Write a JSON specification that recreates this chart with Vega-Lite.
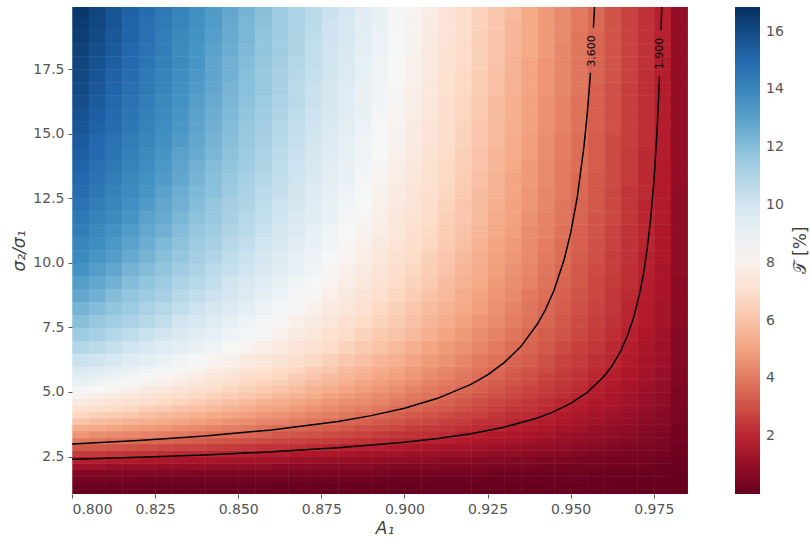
{
"$schema":"https://vega.github.io/schema/vega-lite/v6.json",
"width":625,"height":487,"autosize":"none",
"padding":{"left":72,"top":7,"right":113,"bottom":46},
"background":"white",
"title":{"text":"𝒯 [%]","orient":"right","angle":270,"anchor":"middle","frame":"group","offset":-8,"fontSize":17,"fontWeight":"normal","color":"#444444","font":"DejaVu Sans"},
"config":{"font":"DejaVu Sans","view":{"stroke":null},
"axis":{"domain":false,"labelColor":"#555555","labelFontSize":14,"tickColor":"#555555","tickSize":4,"labelPadding":4,"titleColor":"#444444","titleFontSize":17,"titleFontWeight":"normal","titleFontStyle":"italic","grid":false}},
"datasets":{
"lo":[
{"a":0.802,"s":1.1,"t":0},{"a":0.807,"s":1.1,"t":0},{"a":0.812,"s":1.1,"t":0},{"a":0.817,"s":1.1,"t":0},{"a":0.822,"s":1.1,"t":0},{"a":0.827,"s":1.1,"t":0},{"a":0.832,"s":1.1,"t":0},{"a":0.837,"s":1.1,"t":0},{"a":0.842,"s":1.1,"t":0},{"a":0.847,"s":1.1,"t":0},{"a":0.852,"s":1.1,"t":0},{"a":0.857,"s":1.1,"t":0},{"a":0.862,"s":1.1,"t":0},{"a":0.867,"s":1.1,"t":0},{"a":0.872,"s":1.1,"t":0},{"a":0.877,"s":1.1,"t":0},{"a":0.882,"s":1.1,"t":0},{"a":0.887,"s":1.1,"t":0},{"a":0.892,"s":1.1,"t":0},{"a":0.897,"s":1.1,"t":0},{"a":0.902,"s":1.1,"t":0},{"a":0.907,"s":1.1,"t":0},{"a":0.912,"s":1.1,"t":0},{"a":0.917,"s":1.1,"t":0},{"a":0.922,"s":1.1,"t":0},{"a":0.927,"s":1.1,"t":0},{"a":0.932,"s":1.1,"t":0},{"a":0.937,"s":1.1,"t":0},{"a":0.942,"s":1.1,"t":0},{"a":0.947,"s":1.1,"t":0},{"a":0.952,"s":1.1,"t":0},{"a":0.957,"s":1.1,"t":0},{"a":0.962,"s":1.1,"t":0},{"a":0.967,"s":1.1,"t":0},{"a":0.972,"s":1.1,"t":0},{"a":0.977,"s":1.1,"t":0},{"a":0.982,"s":1.1,"t":0},{"a":0.987,"s":1.1,"t":0},
{"a":0.802,"s":1.4,"t":0.1},{"a":0.807,"s":1.4,"t":0.1},{"a":0.812,"s":1.4,"t":0.1},{"a":0.817,"s":1.4,"t":0.1},{"a":0.822,"s":1.4,"t":0.1},{"a":0.827,"s":1.4,"t":0.1},{"a":0.832,"s":1.4,"t":0.1},{"a":0.837,"s":1.4,"t":0.1},{"a":0.842,"s":1.4,"t":0.1},{"a":0.847,"s":1.4,"t":0.1},{"a":0.852,"s":1.4,"t":0.1},{"a":0.857,"s":1.4,"t":0.1},{"a":0.862,"s":1.4,"t":0},{"a":0.867,"s":1.4,"t":0},{"a":0.872,"s":1.4,"t":0},{"a":0.877,"s":1.4,"t":0},{"a":0.882,"s":1.4,"t":0},{"a":0.887,"s":1.4,"t":0},{"a":0.892,"s":1.4,"t":0},{"a":0.897,"s":1.4,"t":0},{"a":0.902,"s":1.4,"t":0},{"a":0.907,"s":1.4,"t":0},{"a":0.912,"s":1.4,"t":0},{"a":0.917,"s":1.4,"t":0},{"a":0.922,"s":1.4,"t":0},{"a":0.927,"s":1.4,"t":0},{"a":0.932,"s":1.4,"t":0},{"a":0.937,"s":1.4,"t":0},{"a":0.942,"s":1.4,"t":0},{"a":0.947,"s":1.4,"t":0},{"a":0.952,"s":1.4,"t":0},{"a":0.957,"s":1.4,"t":0},{"a":0.962,"s":1.4,"t":0},{"a":0.967,"s":1.4,"t":0},{"a":0.972,"s":1.4,"t":0},{"a":0.977,"s":1.4,"t":0},{"a":0.982,"s":1.4,"t":0},{"a":0.987,"s":1.4,"t":0},
{"a":0.802,"s":1.6,"t":0.3},{"a":0.807,"s":1.6,"t":0.3},{"a":0.812,"s":1.6,"t":0.3},{"a":0.817,"s":1.6,"t":0.3},{"a":0.822,"s":1.6,"t":0.2},{"a":0.827,"s":1.6,"t":0.2},{"a":0.832,"s":1.6,"t":0.2},{"a":0.837,"s":1.6,"t":0.2},{"a":0.842,"s":1.6,"t":0.2},{"a":0.847,"s":1.6,"t":0.2},{"a":0.852,"s":1.6,"t":0.2},{"a":0.857,"s":1.6,"t":0.2},{"a":0.862,"s":1.6,"t":0.2},{"a":0.867,"s":1.6,"t":0.2},{"a":0.872,"s":1.6,"t":0.2},{"a":0.877,"s":1.6,"t":0.2},{"a":0.882,"s":1.6,"t":0.2},{"a":0.887,"s":1.6,"t":0.2},{"a":0.892,"s":1.6,"t":0.1},{"a":0.897,"s":1.6,"t":0.1},{"a":0.902,"s":1.6,"t":0.1},{"a":0.907,"s":1.6,"t":0.1},{"a":0.912,"s":1.6,"t":0.1},{"a":0.917,"s":1.6,"t":0.1},{"a":0.922,"s":1.6,"t":0.1},{"a":0.927,"s":1.6,"t":0.1},{"a":0.932,"s":1.6,"t":0.1},{"a":0.937,"s":1.6,"t":0.1},{"a":0.942,"s":1.6,"t":0.1},{"a":0.947,"s":1.6,"t":0.1},{"a":0.952,"s":1.6,"t":0.1},{"a":0.957,"s":1.6,"t":0.1},{"a":0.962,"s":1.6,"t":0.1},{"a":0.967,"s":1.6,"t":0},{"a":0.972,"s":1.6,"t":0},{"a":0.977,"s":1.6,"t":0},{"a":0.982,"s":1.6,"t":0},{"a":0.987,"s":1.6,"t":0},
{"a":0.802,"s":1.9,"t":0.6},{"a":0.807,"s":1.9,"t":0.6},{"a":0.812,"s":1.9,"t":0.6},{"a":0.817,"s":1.9,"t":0.6},{"a":0.822,"s":1.9,"t":0.6},{"a":0.827,"s":1.9,"t":0.6},{"a":0.832,"s":1.9,"t":0.6},{"a":0.837,"s":1.9,"t":0.5},{"a":0.842,"s":1.9,"t":0.5},{"a":0.847,"s":1.9,"t":0.5},{"a":0.852,"s":1.9,"t":0.5},{"a":0.857,"s":1.9,"t":0.5},{"a":0.862,"s":1.9,"t":0.5},{"a":0.867,"s":1.9,"t":0.4},{"a":0.872,"s":1.9,"t":0.4},{"a":0.877,"s":1.9,"t":0.4},{"a":0.882,"s":1.9,"t":0.4},{"a":0.887,"s":1.9,"t":0.4},{"a":0.892,"s":1.9,"t":0.4},{"a":0.897,"s":1.9,"t":0.3},{"a":0.902,"s":1.9,"t":0.3},{"a":0.907,"s":1.9,"t":0.3},{"a":0.912,"s":1.9,"t":0.3},{"a":0.917,"s":1.9,"t":0.3},{"a":0.922,"s":1.9,"t":0.3},{"a":0.927,"s":1.9,"t":0.2},{"a":0.932,"s":1.9,"t":0.2},{"a":0.937,"s":1.9,"t":0.2},{"a":0.942,"s":1.9,"t":0.2},{"a":0.947,"s":1.9,"t":0.2},{"a":0.952,"s":1.9,"t":0.2},{"a":0.957,"s":1.9,"t":0.1},{"a":0.962,"s":1.9,"t":0.1},{"a":0.967,"s":1.9,"t":0.1},{"a":0.972,"s":1.9,"t":0.1},{"a":0.977,"s":1.9,"t":0.1},{"a":0.982,"s":1.9,"t":0.1},{"a":0.987,"s":1.9,"t":0},
{"a":0.802,"s":2.1,"t":1.2},{"a":0.807,"s":2.1,"t":1.2},{"a":0.812,"s":2.1,"t":1.1},{"a":0.817,"s":2.1,"t":1.1},{"a":0.822,"s":2.1,"t":1.1},{"a":0.827,"s":2.1,"t":1},{"a":0.832,"s":2.1,"t":1},{"a":0.837,"s":2.1,"t":1},{"a":0.842,"s":2.1,"t":0.9},{"a":0.847,"s":2.1,"t":0.9},{"a":0.852,"s":2.1,"t":0.9},{"a":0.857,"s":2.1,"t":0.9},{"a":0.862,"s":2.1,"t":0.8},{"a":0.867,"s":2.1,"t":0.8},{"a":0.872,"s":2.1,"t":0.8},{"a":0.877,"s":2.1,"t":0.7},{"a":0.882,"s":2.1,"t":0.7},{"a":0.887,"s":2.1,"t":0.7},{"a":0.892,"s":2.1,"t":0.6},{"a":0.897,"s":2.1,"t":0.6},{"a":0.902,"s":2.1,"t":0.6},{"a":0.907,"s":2.1,"t":0.6},{"a":0.912,"s":2.1,"t":0.5},{"a":0.917,"s":2.1,"t":0.5},{"a":0.922,"s":2.1,"t":0.5},{"a":0.927,"s":2.1,"t":0.4},{"a":0.932,"s":2.1,"t":0.4},{"a":0.937,"s":2.1,"t":0.4},{"a":0.942,"s":2.1,"t":0.3},{"a":0.947,"s":2.1,"t":0.3},{"a":0.952,"s":2.1,"t":0.3},{"a":0.957,"s":2.1,"t":0.3},{"a":0.962,"s":2.1,"t":0.2},{"a":0.967,"s":2.1,"t":0.2},{"a":0.972,"s":2.1,"t":0.2},{"a":0.977,"s":2.1,"t":0.1},{"a":0.982,"s":2.1,"t":0.1},{"a":0.987,"s":2.1,"t":0.1},
{"a":0.802,"s":2.4,"t":1.8},{"a":0.807,"s":2.4,"t":1.8},{"a":0.812,"s":2.4,"t":1.7},{"a":0.817,"s":2.4,"t":1.7},{"a":0.822,"s":2.4,"t":1.6},{"a":0.827,"s":2.4,"t":1.6},{"a":0.832,"s":2.4,"t":1.5},{"a":0.837,"s":2.4,"t":1.5},{"a":0.842,"s":2.4,"t":1.5},{"a":0.847,"s":2.4,"t":1.4},{"a":0.852,"s":2.4,"t":1.4},{"a":0.857,"s":2.4,"t":1.3},{"a":0.862,"s":2.4,"t":1.3},{"a":0.867,"s":2.4,"t":1.2},{"a":0.872,"s":2.4,"t":1.2},{"a":0.877,"s":2.4,"t":1.1},{"a":0.882,"s":2.4,"t":1.1},{"a":0.887,"s":2.4,"t":1},{"a":0.892,"s":2.4,"t":1},{"a":0.897,"s":2.4,"t":0.9},{"a":0.902,"s":2.4,"t":0.9},{"a":0.907,"s":2.4,"t":0.9},{"a":0.912,"s":2.4,"t":0.8},{"a":0.917,"s":2.4,"t":0.8},{"a":0.922,"s":2.4,"t":0.7},{"a":0.927,"s":2.4,"t":0.7},{"a":0.932,"s":2.4,"t":0.6},{"a":0.937,"s":2.4,"t":0.6},{"a":0.942,"s":2.4,"t":0.5},{"a":0.947,"s":2.4,"t":0.5},{"a":0.952,"s":2.4,"t":0.4},{"a":0.957,"s":2.4,"t":0.4},{"a":0.962,"s":2.4,"t":0.3},{"a":0.967,"s":2.4,"t":0.3},{"a":0.972,"s":2.4,"t":0.3},{"a":0.977,"s":2.4,"t":0.2},{"a":0.982,"s":2.4,"t":0.2},{"a":0.987,"s":2.4,"t":0.1},
{"a":0.802,"s":2.6,"t":2.5},{"a":0.807,"s":2.6,"t":2.5},{"a":0.812,"s":2.6,"t":2.4},{"a":0.817,"s":2.6,"t":2.3},{"a":0.822,"s":2.6,"t":2.3},{"a":0.827,"s":2.6,"t":2.2},{"a":0.832,"s":2.6,"t":2.1},{"a":0.837,"s":2.6,"t":2.1},{"a":0.842,"s":2.6,"t":2},{"a":0.847,"s":2.6,"t":1.9},{"a":0.852,"s":2.6,"t":1.9},{"a":0.857,"s":2.6,"t":1.8},{"a":0.862,"s":2.6,"t":1.8},{"a":0.867,"s":2.6,"t":1.7},{"a":0.872,"s":2.6,"t":1.6},{"a":0.877,"s":2.6,"t":1.6},{"a":0.882,"s":2.6,"t":1.5},{"a":0.887,"s":2.6,"t":1.4},{"a":0.892,"s":2.6,"t":1.4},{"a":0.897,"s":2.6,"t":1.3},{"a":0.902,"s":2.6,"t":1.2},{"a":0.907,"s":2.6,"t":1.2},{"a":0.912,"s":2.6,"t":1.1},{"a":0.917,"s":2.6,"t":1.1},{"a":0.922,"s":2.6,"t":1},{"a":0.927,"s":2.6,"t":0.9},{"a":0.932,"s":2.6,"t":0.9},{"a":0.937,"s":2.6,"t":0.8},{"a":0.942,"s":2.6,"t":0.7},{"a":0.947,"s":2.6,"t":0.7},{"a":0.952,"s":2.6,"t":0.6},{"a":0.957,"s":2.6,"t":0.5},{"a":0.962,"s":2.6,"t":0.5},{"a":0.967,"s":2.6,"t":0.4},{"a":0.972,"s":2.6,"t":0.4},{"a":0.977,"s":2.6,"t":0.3},{"a":0.982,"s":2.6,"t":0.2},{"a":0.987,"s":2.6,"t":0.2},
{"a":0.802,"s":2.9,"t":3.2},{"a":0.807,"s":2.9,"t":3.2},{"a":0.812,"s":2.9,"t":3.1},{"a":0.817,"s":2.9,"t":3},{"a":0.822,"s":2.9,"t":2.9},{"a":0.827,"s":2.9,"t":2.8},{"a":0.832,"s":2.9,"t":2.7},{"a":0.837,"s":2.9,"t":2.7},{"a":0.842,"s":2.9,"t":2.6},{"a":0.847,"s":2.9,"t":2.5},{"a":0.852,"s":2.9,"t":2.4},{"a":0.857,"s":2.9,"t":2.3},{"a":0.862,"s":2.9,"t":2.3},{"a":0.867,"s":2.9,"t":2.2},{"a":0.872,"s":2.9,"t":2.1},{"a":0.877,"s":2.9,"t":2},{"a":0.882,"s":2.9,"t":1.9},{"a":0.887,"s":2.9,"t":1.8},{"a":0.892,"s":2.9,"t":1.8},{"a":0.897,"s":2.9,"t":1.7},{"a":0.902,"s":2.9,"t":1.6},{"a":0.907,"s":2.9,"t":1.5},{"a":0.912,"s":2.9,"t":1.4},{"a":0.917,"s":2.9,"t":1.4},{"a":0.922,"s":2.9,"t":1.3},{"a":0.927,"s":2.9,"t":1.2},{"a":0.932,"s":2.9,"t":1.1},{"a":0.937,"s":2.9,"t":1},{"a":0.942,"s":2.9,"t":0.9},{"a":0.947,"s":2.9,"t":0.9},{"a":0.952,"s":2.9,"t":0.8},{"a":0.957,"s":2.9,"t":0.7},{"a":0.962,"s":2.9,"t":0.6},{"a":0.967,"s":2.9,"t":0.5},{"a":0.972,"s":2.9,"t":0.5},{"a":0.977,"s":2.9,"t":0.4},{"a":0.982,"s":2.9,"t":0.3},{"a":0.987,"s":2.9,"t":0.2},
{"a":0.802,"s":3.1,"t":4},{"a":0.807,"s":3.1,"t":3.9},{"a":0.812,"s":3.1,"t":3.8},{"a":0.817,"s":3.1,"t":3.7},{"a":0.822,"s":3.1,"t":3.6},{"a":0.827,"s":3.1,"t":3.5},{"a":0.832,"s":3.1,"t":3.4},{"a":0.837,"s":3.1,"t":3.3},{"a":0.842,"s":3.1,"t":3.2},{"a":0.847,"s":3.1,"t":3.1},{"a":0.852,"s":3.1,"t":3},{"a":0.857,"s":3.1,"t":2.9},{"a":0.862,"s":3.1,"t":2.8},{"a":0.867,"s":3.1,"t":2.7},{"a":0.872,"s":3.1,"t":2.6},{"a":0.877,"s":3.1,"t":2.5},{"a":0.882,"s":3.1,"t":2.4},{"a":0.887,"s":3.1,"t":2.3},{"a":0.892,"s":3.1,"t":2.2},{"a":0.897,"s":3.1,"t":2.1},{"a":0.902,"s":3.1,"t":2},{"a":0.907,"s":3.1,"t":1.9},{"a":0.912,"s":3.1,"t":1.8},{"a":0.917,"s":3.1,"t":1.7},{"a":0.922,"s":3.1,"t":1.6},{"a":0.927,"s":3.1,"t":1.5},{"a":0.932,"s":3.1,"t":1.4},{"a":0.937,"s":3.1,"t":1.3},{"a":0.942,"s":3.1,"t":1.2},{"a":0.947,"s":3.1,"t":1.1},{"a":0.952,"s":3.1,"t":1},{"a":0.957,"s":3.1,"t":0.9},{"a":0.962,"s":3.1,"t":0.8},{"a":0.967,"s":3.1,"t":0.7},{"a":0.972,"s":3.1,"t":0.6},{"a":0.977,"s":3.1,"t":0.5},{"a":0.982,"s":3.1,"t":0.4},{"a":0.987,"s":3.1,"t":0.3},
{"a":0.802,"s":3.4,"t":4.7},{"a":0.807,"s":3.4,"t":4.5},{"a":0.812,"s":3.4,"t":4.4},{"a":0.817,"s":3.4,"t":4.3},{"a":0.822,"s":3.4,"t":4.2},{"a":0.827,"s":3.4,"t":4.1},{"a":0.832,"s":3.4,"t":4},{"a":0.837,"s":3.4,"t":3.8},{"a":0.842,"s":3.4,"t":3.7},{"a":0.847,"s":3.4,"t":3.6},{"a":0.852,"s":3.4,"t":3.5},{"a":0.857,"s":3.4,"t":3.4},{"a":0.862,"s":3.4,"t":3.2},{"a":0.867,"s":3.4,"t":3.1},{"a":0.872,"s":3.4,"t":3},{"a":0.877,"s":3.4,"t":2.9},{"a":0.882,"s":3.4,"t":2.8},{"a":0.887,"s":3.4,"t":2.7},{"a":0.892,"s":3.4,"t":2.5},{"a":0.897,"s":3.4,"t":2.4},{"a":0.902,"s":3.4,"t":2.3},{"a":0.907,"s":3.4,"t":2.2},{"a":0.912,"s":3.4,"t":2.1},{"a":0.917,"s":3.4,"t":1.9},{"a":0.922,"s":3.4,"t":1.8},{"a":0.927,"s":3.4,"t":1.7},{"a":0.932,"s":3.4,"t":1.6},{"a":0.937,"s":3.4,"t":1.5},{"a":0.942,"s":3.4,"t":1.4},{"a":0.947,"s":3.4,"t":1.2},{"a":0.952,"s":3.4,"t":1.1},{"a":0.957,"s":3.4,"t":1},{"a":0.962,"s":3.4,"t":0.9},{"a":0.967,"s":3.4,"t":0.8},{"a":0.972,"s":3.4,"t":0.6},{"a":0.977,"s":3.4,"t":0.5},{"a":0.982,"s":3.4,"t":0.4},{"a":0.987,"s":3.4,"t":0.3},
{"a":0.802,"s":3.6,"t":5.3},{"a":0.807,"s":3.6,"t":5.2},{"a":0.812,"s":3.6,"t":5.1},{"a":0.817,"s":3.6,"t":4.9},{"a":0.822,"s":3.6,"t":4.8},{"a":0.827,"s":3.6,"t":4.7},{"a":0.832,"s":3.6,"t":4.5},{"a":0.837,"s":3.6,"t":4.4},{"a":0.842,"s":3.6,"t":4.2},{"a":0.847,"s":3.6,"t":4.1},{"a":0.852,"s":3.6,"t":4},{"a":0.857,"s":3.6,"t":3.8},{"a":0.862,"s":3.6,"t":3.7},{"a":0.867,"s":3.6,"t":3.6},{"a":0.872,"s":3.6,"t":3.4},{"a":0.877,"s":3.6,"t":3.3},{"a":0.882,"s":3.6,"t":3.2},{"a":0.887,"s":3.6,"t":3},{"a":0.892,"s":3.6,"t":2.9},{"a":0.897,"s":3.6,"t":2.8},{"a":0.902,"s":3.6,"t":2.6},{"a":0.907,"s":3.6,"t":2.5},{"a":0.912,"s":3.6,"t":2.4},{"a":0.917,"s":3.6,"t":2.2},{"a":0.922,"s":3.6,"t":2.1},{"a":0.927,"s":3.6,"t":2},{"a":0.932,"s":3.6,"t":1.8},{"a":0.937,"s":3.6,"t":1.7},{"a":0.942,"s":3.6,"t":1.6},{"a":0.947,"s":3.6,"t":1.4},{"a":0.952,"s":3.6,"t":1.3},{"a":0.957,"s":3.6,"t":1.1},{"a":0.962,"s":3.6,"t":1},{"a":0.967,"s":3.6,"t":0.9},{"a":0.972,"s":3.6,"t":0.7},{"a":0.977,"s":3.6,"t":0.6},{"a":0.982,"s":3.6,"t":0.5},{"a":0.987,"s":3.6,"t":0.3},
{"a":0.802,"s":3.9,"t":6},{"a":0.807,"s":3.9,"t":5.8},{"a":0.812,"s":3.9,"t":5.7},{"a":0.817,"s":3.9,"t":5.5},{"a":0.822,"s":3.9,"t":5.4},{"a":0.827,"s":3.9,"t":5.2},{"a":0.832,"s":3.9,"t":5.1},{"a":0.837,"s":3.9,"t":4.9},{"a":0.842,"s":3.9,"t":4.8},{"a":0.847,"s":3.9,"t":4.6},{"a":0.852,"s":3.9,"t":4.5},{"a":0.857,"s":3.9,"t":4.3},{"a":0.862,"s":3.9,"t":4.2},{"a":0.867,"s":3.9,"t":4},{"a":0.872,"s":3.9,"t":3.9},{"a":0.877,"s":3.9,"t":3.7},{"a":0.882,"s":3.9,"t":3.5},{"a":0.887,"s":3.9,"t":3.4},{"a":0.892,"s":3.9,"t":3.2},{"a":0.897,"s":3.9,"t":3.1},{"a":0.902,"s":3.9,"t":2.9},{"a":0.907,"s":3.9,"t":2.8},{"a":0.912,"s":3.9,"t":2.6},{"a":0.917,"s":3.9,"t":2.5},{"a":0.922,"s":3.9,"t":2.3},{"a":0.927,"s":3.9,"t":2.2},{"a":0.932,"s":3.9,"t":2},{"a":0.937,"s":3.9,"t":1.9},{"a":0.942,"s":3.9,"t":1.7},{"a":0.947,"s":3.9,"t":1.6},{"a":0.952,"s":3.9,"t":1.4},{"a":0.957,"s":3.9,"t":1.3},{"a":0.962,"s":3.9,"t":1.1},{"a":0.967,"s":3.9,"t":1},{"a":0.972,"s":3.9,"t":0.8},{"a":0.977,"s":3.9,"t":0.7},{"a":0.982,"s":3.9,"t":0.5},{"a":0.987,"s":3.9,"t":0.4},
{"a":0.802,"s":4.1,"t":6.6},{"a":0.807,"s":4.1,"t":6.4},{"a":0.812,"s":4.1,"t":6.2},{"a":0.817,"s":4.1,"t":6.1},{"a":0.822,"s":4.1,"t":5.9},{"a":0.827,"s":4.1,"t":5.7},{"a":0.832,"s":4.1,"t":5.6},{"a":0.837,"s":4.1,"t":5.4},{"a":0.842,"s":4.1,"t":5.2},{"a":0.847,"s":4.1,"t":5.1},{"a":0.852,"s":4.1,"t":4.9},{"a":0.857,"s":4.1,"t":4.7},{"a":0.862,"s":4.1,"t":4.6},{"a":0.867,"s":4.1,"t":4.4},{"a":0.872,"s":4.1,"t":4.2},{"a":0.877,"s":4.1,"t":4.1},{"a":0.882,"s":4.1,"t":3.9},{"a":0.887,"s":4.1,"t":3.7},{"a":0.892,"s":4.1,"t":3.6},{"a":0.897,"s":4.1,"t":3.4},{"a":0.902,"s":4.1,"t":3.2},{"a":0.907,"s":4.1,"t":3.1},{"a":0.912,"s":4.1,"t":2.9},{"a":0.917,"s":4.1,"t":2.7},{"a":0.922,"s":4.1,"t":2.6},{"a":0.927,"s":4.1,"t":2.4},{"a":0.932,"s":4.1,"t":2.2},{"a":0.937,"s":4.1,"t":2.1},{"a":0.942,"s":4.1,"t":1.9},{"a":0.947,"s":4.1,"t":1.7},{"a":0.952,"s":4.1,"t":1.6},{"a":0.957,"s":4.1,"t":1.4},{"a":0.962,"s":4.1,"t":1.2},{"a":0.967,"s":4.1,"t":1.1},{"a":0.972,"s":4.1,"t":0.9},{"a":0.977,"s":4.1,"t":0.7},{"a":0.982,"s":4.1,"t":0.6},{"a":0.987,"s":4.1,"t":0.4},
{"a":0.802,"s":4.4,"t":7.1},{"a":0.807,"s":4.4,"t":6.9},{"a":0.812,"s":4.4,"t":6.8},{"a":0.817,"s":4.4,"t":6.6},{"a":0.822,"s":4.4,"t":6.4},{"a":0.827,"s":4.4,"t":6.2},{"a":0.832,"s":4.4,"t":6},{"a":0.837,"s":4.4,"t":5.9},{"a":0.842,"s":4.4,"t":5.7},{"a":0.847,"s":4.4,"t":5.5},{"a":0.852,"s":4.4,"t":5.3},{"a":0.857,"s":4.4,"t":5.1},{"a":0.862,"s":4.4,"t":5},{"a":0.867,"s":4.4,"t":4.8},{"a":0.872,"s":4.4,"t":4.6},{"a":0.877,"s":4.4,"t":4.4},{"a":0.882,"s":4.4,"t":4.2},{"a":0.887,"s":4.4,"t":4.1},{"a":0.892,"s":4.4,"t":3.9},{"a":0.897,"s":4.4,"t":3.7},{"a":0.902,"s":4.4,"t":3.5},{"a":0.907,"s":4.4,"t":3.3},{"a":0.912,"s":4.4,"t":3.2},{"a":0.917,"s":4.4,"t":3},{"a":0.922,"s":4.4,"t":2.8},{"a":0.927,"s":4.4,"t":2.6},{"a":0.932,"s":4.4,"t":2.4},{"a":0.937,"s":4.4,"t":2.3},{"a":0.942,"s":4.4,"t":2.1},{"a":0.947,"s":4.4,"t":1.9},{"a":0.952,"s":4.4,"t":1.7},{"a":0.957,"s":4.4,"t":1.5},{"a":0.962,"s":4.4,"t":1.4},{"a":0.967,"s":4.4,"t":1.2},{"a":0.972,"s":4.4,"t":1},{"a":0.977,"s":4.4,"t":0.8},{"a":0.982,"s":4.4,"t":0.6},{"a":0.987,"s":4.4,"t":0.5},
{"a":0.802,"s":4.6,"t":7.6},{"a":0.807,"s":4.6,"t":7.5},{"a":0.812,"s":4.6,"t":7.3},{"a":0.817,"s":4.6,"t":7.1},{"a":0.822,"s":4.6,"t":6.9},{"a":0.827,"s":4.6,"t":6.7},{"a":0.832,"s":4.6,"t":6.5},{"a":0.837,"s":4.6,"t":6.3},{"a":0.842,"s":4.6,"t":6.1},{"a":0.847,"s":4.6,"t":5.9},{"a":0.852,"s":4.6,"t":5.7},{"a":0.857,"s":4.6,"t":5.5},{"a":0.862,"s":4.6,"t":5.3},{"a":0.867,"s":4.6,"t":5.1},{"a":0.872,"s":4.6,"t":4.9},{"a":0.877,"s":4.6,"t":4.7},{"a":0.882,"s":4.6,"t":4.5},{"a":0.887,"s":4.6,"t":4.4},{"a":0.892,"s":4.6,"t":4.2},{"a":0.897,"s":4.6,"t":4},{"a":0.902,"s":4.6,"t":3.8},{"a":0.907,"s":4.6,"t":3.6},{"a":0.912,"s":4.6,"t":3.4},{"a":0.917,"s":4.6,"t":3.2},{"a":0.922,"s":4.6,"t":3},{"a":0.927,"s":4.6,"t":2.8},{"a":0.932,"s":4.6,"t":2.6},{"a":0.937,"s":4.6,"t":2.4},{"a":0.942,"s":4.6,"t":2.2},{"a":0.947,"s":4.6,"t":2},{"a":0.952,"s":4.6,"t":1.8},{"a":0.957,"s":4.6,"t":1.6},{"a":0.962,"s":4.6,"t":1.5},{"a":0.967,"s":4.6,"t":1.3},{"a":0.972,"s":4.6,"t":1.1},{"a":0.977,"s":4.6,"t":0.9},{"a":0.982,"s":4.6,"t":0.7},{"a":0.987,"s":4.6,"t":0.5},
{"a":0.802,"s":4.9,"t":8.1},{"a":0.807,"s":4.9,"t":7.9},{"a":0.812,"s":4.9,"t":7.7},{"a":0.817,"s":4.9,"t":7.5},{"a":0.822,"s":4.9,"t":7.3},{"a":0.827,"s":4.9,"t":7.1},{"a":0.832,"s":4.9,"t":6.9},{"a":0.837,"s":4.9,"t":6.7},{"a":0.842,"s":4.9,"t":6.5},{"a":0.847,"s":4.9,"t":6.3},{"a":0.852,"s":4.9,"t":6.1},{"a":0.857,"s":4.9,"t":5.9},{"a":0.862,"s":4.9,"t":5.7},{"a":0.867,"s":4.9,"t":5.5},{"a":0.872,"s":4.9,"t":5.3},{"a":0.877,"s":4.9,"t":5},{"a":0.882,"s":4.9,"t":4.8},{"a":0.887,"s":4.9,"t":4.6},{"a":0.892,"s":4.9,"t":4.4},{"a":0.897,"s":4.9,"t":4.2},{"a":0.902,"s":4.9,"t":4},{"a":0.907,"s":4.9,"t":3.8},{"a":0.912,"s":4.9,"t":3.6},{"a":0.917,"s":4.9,"t":3.4},{"a":0.922,"s":4.9,"t":3.2},{"a":0.927,"s":4.9,"t":3},{"a":0.932,"s":4.9,"t":2.8},{"a":0.937,"s":4.9,"t":2.6},{"a":0.942,"s":4.9,"t":2.4},{"a":0.947,"s":4.9,"t":2.2},{"a":0.952,"s":4.9,"t":2},{"a":0.957,"s":4.9,"t":1.8},{"a":0.962,"s":4.9,"t":1.5},{"a":0.967,"s":4.9,"t":1.3},{"a":0.972,"s":4.9,"t":1.1},{"a":0.977,"s":4.9,"t":0.9},{"a":0.982,"s":4.9,"t":0.7},{"a":0.987,"s":4.9,"t":0.5},
{"a":0.802,"s":5.1,"t":8.6},{"a":0.807,"s":5.1,"t":8.4},{"a":0.812,"s":5.1,"t":8.2},{"a":0.817,"s":5.1,"t":7.9},{"a":0.822,"s":5.1,"t":7.7},{"a":0.827,"s":5.1,"t":7.5},{"a":0.832,"s":5.1,"t":7.3},{"a":0.837,"s":5.1,"t":7.1},{"a":0.842,"s":5.1,"t":6.9},{"a":0.847,"s":5.1,"t":6.6},{"a":0.852,"s":5.1,"t":6.4},{"a":0.857,"s":5.1,"t":6.2},{"a":0.862,"s":5.1,"t":6},{"a":0.867,"s":5.1,"t":5.8},{"a":0.872,"s":5.1,"t":5.5},{"a":0.877,"s":5.1,"t":5.3},{"a":0.882,"s":5.1,"t":5.1},{"a":0.887,"s":5.1,"t":4.9},{"a":0.892,"s":5.1,"t":4.7},{"a":0.897,"s":5.1,"t":4.5},{"a":0.902,"s":5.1,"t":4.2},{"a":0.907,"s":5.1,"t":4},{"a":0.912,"s":5.1,"t":3.8},{"a":0.917,"s":5.1,"t":3.6},{"a":0.922,"s":5.1,"t":3.4},{"a":0.927,"s":5.1,"t":3.2},{"a":0.932,"s":5.1,"t":2.9},{"a":0.937,"s":5.1,"t":2.7},{"a":0.942,"s":5.1,"t":2.5},{"a":0.947,"s":5.1,"t":2.3},{"a":0.952,"s":5.1,"t":2.1},{"a":0.957,"s":5.1,"t":1.8},{"a":0.962,"s":5.1,"t":1.6},{"a":0.967,"s":5.1,"t":1.4},{"a":0.972,"s":5.1,"t":1.2},{"a":0.977,"s":5.1,"t":1},{"a":0.982,"s":5.1,"t":0.8},{"a":0.987,"s":5.1,"t":0.5},
{"a":0.802,"s":5.4,"t":9},{"a":0.807,"s":5.4,"t":8.8},{"a":0.812,"s":5.4,"t":8.6},{"a":0.817,"s":5.4,"t":8.3},{"a":0.822,"s":5.4,"t":8.1},{"a":0.827,"s":5.4,"t":7.9},{"a":0.832,"s":5.4,"t":7.7},{"a":0.837,"s":5.4,"t":7.4},{"a":0.842,"s":5.4,"t":7.2},{"a":0.847,"s":5.4,"t":7},{"a":0.852,"s":5.4,"t":6.7},{"a":0.857,"s":5.4,"t":6.5},{"a":0.862,"s":5.4,"t":6.3},{"a":0.867,"s":5.4,"t":6.1},{"a":0.872,"s":5.4,"t":5.8},{"a":0.877,"s":5.4,"t":5.6},{"a":0.882,"s":5.4,"t":5.4},{"a":0.887,"s":5.4,"t":5.1},{"a":0.892,"s":5.4,"t":4.9},{"a":0.897,"s":5.4,"t":4.7},{"a":0.902,"s":5.4,"t":4.5},{"a":0.907,"s":5.4,"t":4.2},{"a":0.912,"s":5.4,"t":4},{"a":0.917,"s":5.4,"t":3.8},{"a":0.922,"s":5.4,"t":3.5},{"a":0.927,"s":5.4,"t":3.3},{"a":0.932,"s":5.4,"t":3.1},{"a":0.937,"s":5.4,"t":2.9},{"a":0.942,"s":5.4,"t":2.6},{"a":0.947,"s":5.4,"t":2.4},{"a":0.952,"s":5.4,"t":2.2},{"a":0.957,"s":5.4,"t":1.9},{"a":0.962,"s":5.4,"t":1.7},{"a":0.967,"s":5.4,"t":1.5},{"a":0.972,"s":5.4,"t":1.3},{"a":0.977,"s":5.4,"t":1},{"a":0.982,"s":5.4,"t":0.8},{"a":0.987,"s":5.4,"t":0.6},
{"a":0.802,"s":5.6,"t":9.4},{"a":0.807,"s":5.6,"t":9.2},{"a":0.812,"s":5.6,"t":8.9},{"a":0.817,"s":5.6,"t":8.7},{"a":0.822,"s":5.6,"t":8.5},{"a":0.827,"s":5.6,"t":8.2},{"a":0.832,"s":5.6,"t":8},{"a":0.837,"s":5.6,"t":7.8},{"a":0.842,"s":5.6,"t":7.5},{"a":0.847,"s":5.6,"t":7.3},{"a":0.852,"s":5.6,"t":7},{"a":0.857,"s":5.6,"t":6.8},{"a":0.862,"s":5.6,"t":6.6},{"a":0.867,"s":5.6,"t":6.3},{"a":0.872,"s":5.6,"t":6.1},{"a":0.877,"s":5.6,"t":5.8},{"a":0.882,"s":5.6,"t":5.6},{"a":0.887,"s":5.6,"t":5.4},{"a":0.892,"s":5.6,"t":5.1},{"a":0.897,"s":5.6,"t":4.9},{"a":0.902,"s":5.6,"t":4.7},{"a":0.907,"s":5.6,"t":4.4},{"a":0.912,"s":5.6,"t":4.2},{"a":0.917,"s":5.6,"t":3.9},{"a":0.922,"s":5.6,"t":3.7},{"a":0.927,"s":5.6,"t":3.5},{"a":0.932,"s":5.6,"t":3.2},{"a":0.937,"s":5.6,"t":3},{"a":0.942,"s":5.6,"t":2.7},{"a":0.947,"s":5.6,"t":2.5},{"a":0.952,"s":5.6,"t":2.3},{"a":0.957,"s":5.6,"t":2},{"a":0.962,"s":5.6,"t":1.8},{"a":0.967,"s":5.6,"t":1.6},{"a":0.972,"s":5.6,"t":1.3},{"a":0.977,"s":5.6,"t":1.1},{"a":0.982,"s":5.6,"t":0.8},{"a":0.987,"s":5.6,"t":0.6},
{"a":0.802,"s":5.9,"t":9.8},{"a":0.807,"s":5.9,"t":9.5},{"a":0.812,"s":5.9,"t":9.3},{"a":0.817,"s":5.9,"t":9.1},{"a":0.822,"s":5.9,"t":8.8},{"a":0.827,"s":5.9,"t":8.6},{"a":0.832,"s":5.9,"t":8.3},{"a":0.837,"s":5.9,"t":8.1},{"a":0.842,"s":5.9,"t":7.8},{"a":0.847,"s":5.9,"t":7.6},{"a":0.852,"s":5.9,"t":7.3},{"a":0.857,"s":5.9,"t":7.1},{"a":0.862,"s":5.9,"t":6.8},{"a":0.867,"s":5.9,"t":6.6},{"a":0.872,"s":5.9,"t":6.3},{"a":0.877,"s":5.9,"t":6.1},{"a":0.882,"s":5.9,"t":5.8},{"a":0.887,"s":5.9,"t":5.6},{"a":0.892,"s":5.9,"t":5.3},{"a":0.897,"s":5.9,"t":5.1},{"a":0.902,"s":5.9,"t":4.8},{"a":0.907,"s":5.9,"t":4.6},{"a":0.912,"s":5.9,"t":4.3},{"a":0.917,"s":5.9,"t":4.1},{"a":0.922,"s":5.9,"t":3.8},{"a":0.927,"s":5.9,"t":3.6},{"a":0.932,"s":5.9,"t":3.3},{"a":0.937,"s":5.9,"t":3.1},{"a":0.942,"s":5.9,"t":2.9},{"a":0.947,"s":5.9,"t":2.6},{"a":0.952,"s":5.9,"t":2.4},{"a":0.957,"s":5.9,"t":2.1},{"a":0.962,"s":5.9,"t":1.9},{"a":0.967,"s":5.9,"t":1.6},{"a":0.972,"s":5.9,"t":1.4},{"a":0.977,"s":5.9,"t":1.1},{"a":0.982,"s":5.9,"t":0.9},{"a":0.987,"s":5.9,"t":0.6}
],
"up":[
{"a":0.802,"s":6.2,"t":10.3},{"a":0.807,"s":6.2,"t":10.1},{"a":0.812,"s":6.2,"t":9.8},{"a":0.817,"s":6.2,"t":9.5},{"a":0.822,"s":6.2,"t":9.3},{"a":0.827,"s":6.2,"t":9},{"a":0.832,"s":6.2,"t":8.7},{"a":0.837,"s":6.2,"t":8.5},{"a":0.842,"s":6.2,"t":8.2},{"a":0.847,"s":6.2,"t":8},{"a":0.852,"s":6.2,"t":7.7},{"a":0.857,"s":6.2,"t":7.4},{"a":0.862,"s":6.2,"t":7.2},{"a":0.867,"s":6.2,"t":6.9},{"a":0.872,"s":6.2,"t":6.7},{"a":0.877,"s":6.2,"t":6.4},{"a":0.882,"s":6.2,"t":6.1},{"a":0.887,"s":6.2,"t":5.9},{"a":0.892,"s":6.2,"t":5.6},{"a":0.897,"s":6.2,"t":5.4},{"a":0.902,"s":6.2,"t":5.1},{"a":0.907,"s":6.2,"t":4.8},{"a":0.912,"s":6.2,"t":4.6},{"a":0.917,"s":6.2,"t":4.3},{"a":0.922,"s":6.2,"t":4},{"a":0.927,"s":6.2,"t":3.8},{"a":0.932,"s":6.2,"t":3.5},{"a":0.937,"s":6.2,"t":3.3},{"a":0.942,"s":6.2,"t":3},{"a":0.947,"s":6.2,"t":2.7},{"a":0.952,"s":6.2,"t":2.5},{"a":0.957,"s":6.2,"t":2.2},{"a":0.962,"s":6.2,"t":2},{"a":0.967,"s":6.2,"t":1.7},{"a":0.972,"s":6.2,"t":1.4},{"a":0.977,"s":6.2,"t":1.2},{"a":0.982,"s":6.2,"t":0.9},{"a":0.987,"s":6.2,"t":0.7},
{"a":0.802,"s":6.7,"t":10.9},{"a":0.807,"s":6.7,"t":10.7},{"a":0.812,"s":6.7,"t":10.4},{"a":0.817,"s":6.7,"t":10.1},{"a":0.822,"s":6.7,"t":9.8},{"a":0.827,"s":6.7,"t":9.5},{"a":0.832,"s":6.7,"t":9.3},{"a":0.837,"s":6.7,"t":9},{"a":0.842,"s":6.7,"t":8.7},{"a":0.847,"s":6.7,"t":8.4},{"a":0.852,"s":6.7,"t":8.2},{"a":0.857,"s":6.7,"t":7.9},{"a":0.862,"s":6.7,"t":7.6},{"a":0.867,"s":6.7,"t":7.3},{"a":0.872,"s":6.7,"t":7.1},{"a":0.877,"s":6.7,"t":6.8},{"a":0.882,"s":6.7,"t":6.5},{"a":0.887,"s":6.7,"t":6.2},{"a":0.892,"s":6.7,"t":6},{"a":0.897,"s":6.7,"t":5.7},{"a":0.902,"s":6.7,"t":5.4},{"a":0.907,"s":6.7,"t":5.1},{"a":0.912,"s":6.7,"t":4.8},{"a":0.917,"s":6.7,"t":4.6},{"a":0.922,"s":6.7,"t":4.3},{"a":0.927,"s":6.7,"t":4},{"a":0.932,"s":6.7,"t":3.7},{"a":0.937,"s":6.7,"t":3.5},{"a":0.942,"s":6.7,"t":3.2},{"a":0.947,"s":6.7,"t":2.9},{"a":0.952,"s":6.7,"t":2.6},{"a":0.957,"s":6.7,"t":2.4},{"a":0.962,"s":6.7,"t":2.1},{"a":0.967,"s":6.7,"t":1.8},{"a":0.972,"s":6.7,"t":1.5},{"a":0.977,"s":6.7,"t":1.2},{"a":0.982,"s":6.7,"t":1},{"a":0.987,"s":6.7,"t":0.7},
{"a":0.802,"s":7.2,"t":11.5},{"a":0.807,"s":7.2,"t":11.2},{"a":0.812,"s":7.2,"t":10.9},{"a":0.817,"s":7.2,"t":10.6},{"a":0.822,"s":7.2,"t":10.3},{"a":0.827,"s":7.2,"t":10},{"a":0.832,"s":7.2,"t":9.7},{"a":0.837,"s":7.2,"t":9.4},{"a":0.842,"s":7.2,"t":9.2},{"a":0.847,"s":7.2,"t":8.9},{"a":0.852,"s":7.2,"t":8.6},{"a":0.857,"s":7.2,"t":8.3},{"a":0.862,"s":7.2,"t":8},{"a":0.867,"s":7.2,"t":7.7},{"a":0.872,"s":7.2,"t":7.4},{"a":0.877,"s":7.2,"t":7.1},{"a":0.882,"s":7.2,"t":6.8},{"a":0.887,"s":7.2,"t":6.5},{"a":0.892,"s":7.2,"t":6.2},{"a":0.897,"s":7.2,"t":6},{"a":0.902,"s":7.2,"t":5.7},{"a":0.907,"s":7.2,"t":5.4},{"a":0.912,"s":7.2,"t":5.1},{"a":0.917,"s":7.2,"t":4.8},{"a":0.922,"s":7.2,"t":4.5},{"a":0.927,"s":7.2,"t":4.2},{"a":0.932,"s":7.2,"t":3.9},{"a":0.937,"s":7.2,"t":3.6},{"a":0.942,"s":7.2,"t":3.3},{"a":0.947,"s":7.2,"t":3.1},{"a":0.952,"s":7.2,"t":2.8},{"a":0.957,"s":7.2,"t":2.5},{"a":0.962,"s":7.2,"t":2.2},{"a":0.967,"s":7.2,"t":1.9},{"a":0.972,"s":7.2,"t":1.6},{"a":0.977,"s":7.2,"t":1.3},{"a":0.982,"s":7.2,"t":1},{"a":0.987,"s":7.2,"t":0.7},
{"a":0.802,"s":7.7,"t":12},{"a":0.807,"s":7.7,"t":11.7},{"a":0.812,"s":7.7,"t":11.4},{"a":0.817,"s":7.7,"t":11.1},{"a":0.822,"s":7.7,"t":10.8},{"a":0.827,"s":7.7,"t":10.5},{"a":0.832,"s":7.7,"t":10.1},{"a":0.837,"s":7.7,"t":9.8},{"a":0.842,"s":7.7,"t":9.5},{"a":0.847,"s":7.7,"t":9.2},{"a":0.852,"s":7.7,"t":8.9},{"a":0.857,"s":7.7,"t":8.6},{"a":0.862,"s":7.7,"t":8.3},{"a":0.867,"s":7.7,"t":8},{"a":0.872,"s":7.7,"t":7.7},{"a":0.877,"s":7.7,"t":7.4},{"a":0.882,"s":7.7,"t":7.1},{"a":0.887,"s":7.7,"t":6.8},{"a":0.892,"s":7.7,"t":6.5},{"a":0.897,"s":7.7,"t":6.2},{"a":0.902,"s":7.7,"t":5.9},{"a":0.907,"s":7.7,"t":5.6},{"a":0.912,"s":7.7,"t":5.3},{"a":0.917,"s":7.7,"t":5},{"a":0.922,"s":7.7,"t":4.7},{"a":0.927,"s":7.7,"t":4.4},{"a":0.932,"s":7.7,"t":4.1},{"a":0.937,"s":7.7,"t":3.8},{"a":0.942,"s":7.7,"t":3.5},{"a":0.947,"s":7.7,"t":3.2},{"a":0.952,"s":7.7,"t":2.9},{"a":0.957,"s":7.7,"t":2.6},{"a":0.962,"s":7.7,"t":2.3},{"a":0.967,"s":7.7,"t":2},{"a":0.972,"s":7.7,"t":1.7},{"a":0.977,"s":7.7,"t":1.4},{"a":0.982,"s":7.7,"t":1.1},{"a":0.987,"s":7.7,"t":0.8},
{"a":0.802,"s":8.2,"t":12.4},{"a":0.807,"s":8.2,"t":12.1},{"a":0.812,"s":8.2,"t":11.8},{"a":0.817,"s":8.2,"t":11.5},{"a":0.822,"s":8.2,"t":11.1},{"a":0.827,"s":8.2,"t":10.8},{"a":0.832,"s":8.2,"t":10.5},{"a":0.837,"s":8.2,"t":10.2},{"a":0.842,"s":8.2,"t":9.9},{"a":0.847,"s":8.2,"t":9.6},{"a":0.852,"s":8.2,"t":9.3},{"a":0.857,"s":8.2,"t":8.9},{"a":0.862,"s":8.2,"t":8.6},{"a":0.867,"s":8.2,"t":8.3},{"a":0.872,"s":8.2,"t":8},{"a":0.877,"s":8.2,"t":7.7},{"a":0.882,"s":8.2,"t":7.4},{"a":0.887,"s":8.2,"t":7.1},{"a":0.892,"s":8.2,"t":6.7},{"a":0.897,"s":8.2,"t":6.4},{"a":0.902,"s":8.2,"t":6.1},{"a":0.907,"s":8.2,"t":5.8},{"a":0.912,"s":8.2,"t":5.5},{"a":0.917,"s":8.2,"t":5.2},{"a":0.922,"s":8.2,"t":4.9},{"a":0.927,"s":8.2,"t":4.6},{"a":0.932,"s":8.2,"t":4.2},{"a":0.937,"s":8.2,"t":3.9},{"a":0.942,"s":8.2,"t":3.6},{"a":0.947,"s":8.2,"t":3.3},{"a":0.952,"s":8.2,"t":3},{"a":0.957,"s":8.2,"t":2.7},{"a":0.962,"s":8.2,"t":2.4},{"a":0.967,"s":8.2,"t":2},{"a":0.972,"s":8.2,"t":1.7},{"a":0.977,"s":8.2,"t":1.4},{"a":0.982,"s":8.2,"t":1.1},{"a":0.987,"s":8.2,"t":0.8},
{"a":0.802,"s":8.7,"t":12.8},{"a":0.807,"s":8.7,"t":12.5},{"a":0.812,"s":8.7,"t":12.1},{"a":0.817,"s":8.7,"t":11.8},{"a":0.822,"s":8.7,"t":11.5},{"a":0.827,"s":8.7,"t":11.2},{"a":0.832,"s":8.7,"t":10.8},{"a":0.837,"s":8.7,"t":10.5},{"a":0.842,"s":8.7,"t":10.2},{"a":0.847,"s":8.7,"t":9.9},{"a":0.852,"s":8.7,"t":9.6},{"a":0.857,"s":8.7,"t":9.2},{"a":0.862,"s":8.7,"t":8.9},{"a":0.867,"s":8.7,"t":8.6},{"a":0.872,"s":8.7,"t":8.3},{"a":0.877,"s":8.7,"t":7.9},{"a":0.882,"s":8.7,"t":7.6},{"a":0.887,"s":8.7,"t":7.3},{"a":0.892,"s":8.7,"t":7},{"a":0.897,"s":8.7,"t":6.6},{"a":0.902,"s":8.7,"t":6.3},{"a":0.907,"s":8.7,"t":6},{"a":0.912,"s":8.7,"t":5.7},{"a":0.917,"s":8.7,"t":5.3},{"a":0.922,"s":8.7,"t":5},{"a":0.927,"s":8.7,"t":4.7},{"a":0.932,"s":8.7,"t":4.4},{"a":0.937,"s":8.7,"t":4},{"a":0.942,"s":8.7,"t":3.7},{"a":0.947,"s":8.7,"t":3.4},{"a":0.952,"s":8.7,"t":3.1},{"a":0.957,"s":8.7,"t":2.8},{"a":0.962,"s":8.7,"t":2.4},{"a":0.967,"s":8.7,"t":2.1},{"a":0.972,"s":8.7,"t":1.8},{"a":0.977,"s":8.7,"t":1.5},{"a":0.982,"s":8.7,"t":1.1},{"a":0.987,"s":8.7,"t":0.8},
{"a":0.802,"s":9.2,"t":13.1},{"a":0.807,"s":9.2,"t":12.8},{"a":0.812,"s":9.2,"t":12.5},{"a":0.817,"s":9.2,"t":12.1},{"a":0.822,"s":9.2,"t":11.8},{"a":0.827,"s":9.2,"t":11.5},{"a":0.832,"s":9.2,"t":11.1},{"a":0.837,"s":9.2,"t":10.8},{"a":0.842,"s":9.2,"t":10.5},{"a":0.847,"s":9.2,"t":10.1},{"a":0.852,"s":9.2,"t":9.8},{"a":0.857,"s":9.2,"t":9.5},{"a":0.862,"s":9.2,"t":9.1},{"a":0.867,"s":9.2,"t":8.8},{"a":0.872,"s":9.2,"t":8.5},{"a":0.877,"s":9.2,"t":8.2},{"a":0.882,"s":9.2,"t":7.8},{"a":0.887,"s":9.2,"t":7.5},{"a":0.892,"s":9.2,"t":7.2},{"a":0.897,"s":9.2,"t":6.8},{"a":0.902,"s":9.2,"t":6.5},{"a":0.907,"s":9.2,"t":6.2},{"a":0.912,"s":9.2,"t":5.8},{"a":0.917,"s":9.2,"t":5.5},{"a":0.922,"s":9.2,"t":5.2},{"a":0.927,"s":9.2,"t":4.8},{"a":0.932,"s":9.2,"t":4.5},{"a":0.937,"s":9.2,"t":4.2},{"a":0.942,"s":9.2,"t":3.8},{"a":0.947,"s":9.2,"t":3.5},{"a":0.952,"s":9.2,"t":3.2},{"a":0.957,"s":9.2,"t":2.8},{"a":0.962,"s":9.2,"t":2.5},{"a":0.967,"s":9.2,"t":2.2},{"a":0.972,"s":9.2,"t":1.8},{"a":0.977,"s":9.2,"t":1.5},{"a":0.982,"s":9.2,"t":1.2},{"a":0.987,"s":9.2,"t":0.8},
{"a":0.802,"s":9.7,"t":13.5},{"a":0.807,"s":9.7,"t":13.1},{"a":0.812,"s":9.7,"t":12.8},{"a":0.817,"s":9.7,"t":12.4},{"a":0.822,"s":9.7,"t":12.1},{"a":0.827,"s":9.7,"t":11.8},{"a":0.832,"s":9.7,"t":11.4},{"a":0.837,"s":9.7,"t":11.1},{"a":0.842,"s":9.7,"t":10.7},{"a":0.847,"s":9.7,"t":10.4},{"a":0.852,"s":9.7,"t":10.1},{"a":0.857,"s":9.7,"t":9.7},{"a":0.862,"s":9.7,"t":9.4},{"a":0.867,"s":9.7,"t":9},{"a":0.872,"s":9.7,"t":8.7},{"a":0.877,"s":9.7,"t":8.3},{"a":0.882,"s":9.7,"t":8},{"a":0.887,"s":9.7,"t":7.7},{"a":0.892,"s":9.7,"t":7.3},{"a":0.897,"s":9.7,"t":7},{"a":0.902,"s":9.7,"t":6.6},{"a":0.907,"s":9.7,"t":6.3},{"a":0.912,"s":9.7,"t":6},{"a":0.917,"s":9.7,"t":5.6},{"a":0.922,"s":9.7,"t":5.3},{"a":0.927,"s":9.7,"t":4.9},{"a":0.932,"s":9.7,"t":4.6},{"a":0.937,"s":9.7,"t":4.3},{"a":0.942,"s":9.7,"t":3.9},{"a":0.947,"s":9.7,"t":3.6},{"a":0.952,"s":9.7,"t":3.2},{"a":0.957,"s":9.7,"t":2.9},{"a":0.962,"s":9.7,"t":2.6},{"a":0.967,"s":9.7,"t":2.2},{"a":0.972,"s":9.7,"t":1.9},{"a":0.977,"s":9.7,"t":1.5},{"a":0.982,"s":9.7,"t":1.2},{"a":0.987,"s":9.7,"t":0.9},
{"a":0.802,"s":10.2,"t":13.8},{"a":0.807,"s":10.2,"t":13.4},{"a":0.812,"s":10.2,"t":13.1},{"a":0.817,"s":10.2,"t":12.7},{"a":0.822,"s":10.2,"t":12.4},{"a":0.827,"s":10.2,"t":12},{"a":0.832,"s":10.2,"t":11.7},{"a":0.837,"s":10.2,"t":11.3},{"a":0.842,"s":10.2,"t":11},{"a":0.847,"s":10.2,"t":10.6},{"a":0.852,"s":10.2,"t":10.3},{"a":0.857,"s":10.2,"t":9.9},{"a":0.862,"s":10.2,"t":9.6},{"a":0.867,"s":10.2,"t":9.2},{"a":0.872,"s":10.2,"t":8.9},{"a":0.877,"s":10.2,"t":8.5},{"a":0.882,"s":10.2,"t":8.2},{"a":0.887,"s":10.2,"t":7.8},{"a":0.892,"s":10.2,"t":7.5},{"a":0.897,"s":10.2,"t":7.1},{"a":0.902,"s":10.2,"t":6.8},{"a":0.907,"s":10.2,"t":6.4},{"a":0.912,"s":10.2,"t":6.1},{"a":0.917,"s":10.2,"t":5.7},{"a":0.922,"s":10.2,"t":5.4},{"a":0.927,"s":10.2,"t":5},{"a":0.932,"s":10.2,"t":4.7},{"a":0.937,"s":10.2,"t":4.4},{"a":0.942,"s":10.2,"t":4},{"a":0.947,"s":10.2,"t":3.7},{"a":0.952,"s":10.2,"t":3.3},{"a":0.957,"s":10.2,"t":3},{"a":0.962,"s":10.2,"t":2.6},{"a":0.967,"s":10.2,"t":2.3},{"a":0.972,"s":10.2,"t":1.9},{"a":0.977,"s":10.2,"t":1.6},{"a":0.982,"s":10.2,"t":1.2},{"a":0.987,"s":10.2,"t":0.9},
{"a":0.802,"s":10.7,"t":14},{"a":0.807,"s":10.7,"t":13.7},{"a":0.812,"s":10.7,"t":13.3},{"a":0.817,"s":10.7,"t":13},{"a":0.822,"s":10.7,"t":12.6},{"a":0.827,"s":10.7,"t":12.2},{"a":0.832,"s":10.7,"t":11.9},{"a":0.837,"s":10.7,"t":11.5},{"a":0.842,"s":10.7,"t":11.2},{"a":0.847,"s":10.7,"t":10.8},{"a":0.852,"s":10.7,"t":10.5},{"a":0.857,"s":10.7,"t":10.1},{"a":0.862,"s":10.7,"t":9.8},{"a":0.867,"s":10.7,"t":9.4},{"a":0.872,"s":10.7,"t":9},{"a":0.877,"s":10.7,"t":8.7},{"a":0.882,"s":10.7,"t":8.3},{"a":0.887,"s":10.7,"t":8},{"a":0.892,"s":10.7,"t":7.6},{"a":0.897,"s":10.7,"t":7.3},{"a":0.902,"s":10.7,"t":6.9},{"a":0.907,"s":10.7,"t":6.6},{"a":0.912,"s":10.7,"t":6.2},{"a":0.917,"s":10.7,"t":5.9},{"a":0.922,"s":10.7,"t":5.5},{"a":0.927,"s":10.7,"t":5.1},{"a":0.932,"s":10.7,"t":4.8},{"a":0.937,"s":10.7,"t":4.4},{"a":0.942,"s":10.7,"t":4.1},{"a":0.947,"s":10.7,"t":3.7},{"a":0.952,"s":10.7,"t":3.4},{"a":0.957,"s":10.7,"t":3},{"a":0.962,"s":10.7,"t":2.7},{"a":0.967,"s":10.7,"t":2.3},{"a":0.972,"s":10.7,"t":2},{"a":0.977,"s":10.7,"t":1.6},{"a":0.982,"s":10.7,"t":1.2},{"a":0.987,"s":10.7,"t":0.9},
{"a":0.802,"s":11.2,"t":14.3},{"a":0.807,"s":11.2,"t":13.9},{"a":0.812,"s":11.2,"t":13.5},{"a":0.817,"s":11.2,"t":13.2},{"a":0.822,"s":11.2,"t":12.8},{"a":0.827,"s":11.2,"t":12.5},{"a":0.832,"s":11.2,"t":12.1},{"a":0.837,"s":11.2,"t":11.7},{"a":0.842,"s":11.2,"t":11.4},{"a":0.847,"s":11.2,"t":11},{"a":0.852,"s":11.2,"t":10.7},{"a":0.857,"s":11.2,"t":10.3},{"a":0.862,"s":11.2,"t":9.9},{"a":0.867,"s":11.2,"t":9.6},{"a":0.872,"s":11.2,"t":9.2},{"a":0.877,"s":11.2,"t":8.8},{"a":0.882,"s":11.2,"t":8.5},{"a":0.887,"s":11.2,"t":8.1},{"a":0.892,"s":11.2,"t":7.8},{"a":0.897,"s":11.2,"t":7.4},{"a":0.902,"s":11.2,"t":7},{"a":0.907,"s":11.2,"t":6.7},{"a":0.912,"s":11.2,"t":6.3},{"a":0.917,"s":11.2,"t":6},{"a":0.922,"s":11.2,"t":5.6},{"a":0.927,"s":11.2,"t":5.2},{"a":0.932,"s":11.2,"t":4.9},{"a":0.937,"s":11.2,"t":4.5},{"a":0.942,"s":11.2,"t":4.2},{"a":0.947,"s":11.2,"t":3.8},{"a":0.952,"s":11.2,"t":3.4},{"a":0.957,"s":11.2,"t":3.1},{"a":0.962,"s":11.2,"t":2.7},{"a":0.967,"s":11.2,"t":2.3},{"a":0.972,"s":11.2,"t":2},{"a":0.977,"s":11.2,"t":1.6},{"a":0.982,"s":11.2,"t":1.3},{"a":0.987,"s":11.2,"t":0.9},
{"a":0.802,"s":11.7,"t":14.5},{"a":0.807,"s":11.7,"t":14.1},{"a":0.812,"s":11.7,"t":13.8},{"a":0.817,"s":11.7,"t":13.4},{"a":0.822,"s":11.7,"t":13},{"a":0.827,"s":11.7,"t":12.7},{"a":0.832,"s":11.7,"t":12.3},{"a":0.837,"s":11.7,"t":11.9},{"a":0.842,"s":11.7,"t":11.6},{"a":0.847,"s":11.7,"t":11.2},{"a":0.852,"s":11.7,"t":10.8},{"a":0.857,"s":11.7,"t":10.5},{"a":0.862,"s":11.7,"t":10.1},{"a":0.867,"s":11.7,"t":9.7},{"a":0.872,"s":11.7,"t":9.4},{"a":0.877,"s":11.7,"t":9},{"a":0.882,"s":11.7,"t":8.6},{"a":0.887,"s":11.7,"t":8.3},{"a":0.892,"s":11.7,"t":7.9},{"a":0.897,"s":11.7,"t":7.5},{"a":0.902,"s":11.7,"t":7.2},{"a":0.907,"s":11.7,"t":6.8},{"a":0.912,"s":11.7,"t":6.4},{"a":0.917,"s":11.7,"t":6.1},{"a":0.922,"s":11.7,"t":5.7},{"a":0.927,"s":11.7,"t":5.3},{"a":0.932,"s":11.7,"t":5},{"a":0.937,"s":11.7,"t":4.6},{"a":0.942,"s":11.7,"t":4.2},{"a":0.947,"s":11.7,"t":3.9},{"a":0.952,"s":11.7,"t":3.5},{"a":0.957,"s":11.7,"t":3.1},{"a":0.962,"s":11.7,"t":2.8},{"a":0.967,"s":11.7,"t":2.4},{"a":0.972,"s":11.7,"t":2},{"a":0.977,"s":11.7,"t":1.7},{"a":0.982,"s":11.7,"t":1.3},{"a":0.987,"s":11.7,"t":0.9},
{"a":0.802,"s":12.2,"t":14.7},{"a":0.807,"s":12.2,"t":14.3},{"a":0.812,"s":12.2,"t":14},{"a":0.817,"s":12.2,"t":13.6},{"a":0.822,"s":12.2,"t":13.2},{"a":0.827,"s":12.2,"t":12.8},{"a":0.832,"s":12.2,"t":12.5},{"a":0.837,"s":12.2,"t":12.1},{"a":0.842,"s":12.2,"t":11.7},{"a":0.847,"s":12.2,"t":11.3},{"a":0.852,"s":12.2,"t":11},{"a":0.857,"s":12.2,"t":10.6},{"a":0.862,"s":12.2,"t":10.2},{"a":0.867,"s":12.2,"t":9.9},{"a":0.872,"s":12.2,"t":9.5},{"a":0.877,"s":12.2,"t":9.1},{"a":0.882,"s":12.2,"t":8.7},{"a":0.887,"s":12.2,"t":8.4},{"a":0.892,"s":12.2,"t":8},{"a":0.897,"s":12.2,"t":7.6},{"a":0.902,"s":12.2,"t":7.3},{"a":0.907,"s":12.2,"t":6.9},{"a":0.912,"s":12.2,"t":6.5},{"a":0.917,"s":12.2,"t":6.1},{"a":0.922,"s":12.2,"t":5.8},{"a":0.927,"s":12.2,"t":5.4},{"a":0.932,"s":12.2,"t":5},{"a":0.937,"s":12.2,"t":4.7},{"a":0.942,"s":12.2,"t":4.3},{"a":0.947,"s":12.2,"t":3.9},{"a":0.952,"s":12.2,"t":3.5},{"a":0.957,"s":12.2,"t":3.2},{"a":0.962,"s":12.2,"t":2.8},{"a":0.967,"s":12.2,"t":2.4},{"a":0.972,"s":12.2,"t":2},{"a":0.977,"s":12.2,"t":1.7},{"a":0.982,"s":12.2,"t":1.3},{"a":0.987,"s":12.2,"t":0.9},
{"a":0.802,"s":12.7,"t":14.9},{"a":0.807,"s":12.7,"t":14.5},{"a":0.812,"s":12.7,"t":14.1},{"a":0.817,"s":12.7,"t":13.8},{"a":0.822,"s":12.7,"t":13.4},{"a":0.827,"s":12.7,"t":13},{"a":0.832,"s":12.7,"t":12.6},{"a":0.837,"s":12.7,"t":12.2},{"a":0.842,"s":12.7,"t":11.9},{"a":0.847,"s":12.7,"t":11.5},{"a":0.852,"s":12.7,"t":11.1},{"a":0.857,"s":12.7,"t":10.7},{"a":0.862,"s":12.7,"t":10.4},{"a":0.867,"s":12.7,"t":10},{"a":0.872,"s":12.7,"t":9.6},{"a":0.877,"s":12.7,"t":9.2},{"a":0.882,"s":12.7,"t":8.9},{"a":0.887,"s":12.7,"t":8.5},{"a":0.892,"s":12.7,"t":8.1},{"a":0.897,"s":12.7,"t":7.7},{"a":0.902,"s":12.7,"t":7.3},{"a":0.907,"s":12.7,"t":7},{"a":0.912,"s":12.7,"t":6.6},{"a":0.917,"s":12.7,"t":6.2},{"a":0.922,"s":12.7,"t":5.8},{"a":0.927,"s":12.7,"t":5.5},{"a":0.932,"s":12.7,"t":5.1},{"a":0.937,"s":12.7,"t":4.7},{"a":0.942,"s":12.7,"t":4.3},{"a":0.947,"s":12.7,"t":4},{"a":0.952,"s":12.7,"t":3.6},{"a":0.957,"s":12.7,"t":3.2},{"a":0.962,"s":12.7,"t":2.8},{"a":0.967,"s":12.7,"t":2.4},{"a":0.972,"s":12.7,"t":2.1},{"a":0.977,"s":12.7,"t":1.7},{"a":0.982,"s":12.7,"t":1.3},{"a":0.987,"s":12.7,"t":0.9},
{"a":0.802,"s":13.2,"t":15.1},{"a":0.807,"s":13.2,"t":14.7},{"a":0.812,"s":13.2,"t":14.3},{"a":0.817,"s":13.2,"t":13.9},{"a":0.822,"s":13.2,"t":13.5},{"a":0.827,"s":13.2,"t":13.2},{"a":0.832,"s":13.2,"t":12.8},{"a":0.837,"s":13.2,"t":12.4},{"a":0.842,"s":13.2,"t":12},{"a":0.847,"s":13.2,"t":11.6},{"a":0.852,"s":13.2,"t":11.2},{"a":0.857,"s":13.2,"t":10.9},{"a":0.862,"s":13.2,"t":10.5},{"a":0.867,"s":13.2,"t":10.1},{"a":0.872,"s":13.2,"t":9.7},{"a":0.877,"s":13.2,"t":9.3},{"a":0.882,"s":13.2,"t":9},{"a":0.887,"s":13.2,"t":8.6},{"a":0.892,"s":13.2,"t":8.2},{"a":0.897,"s":13.2,"t":7.8},{"a":0.902,"s":13.2,"t":7.4},{"a":0.907,"s":13.2,"t":7.1},{"a":0.912,"s":13.2,"t":6.7},{"a":0.917,"s":13.2,"t":6.3},{"a":0.922,"s":13.2,"t":5.9},{"a":0.927,"s":13.2,"t":5.5},{"a":0.932,"s":13.2,"t":5.1},{"a":0.937,"s":13.2,"t":4.8},{"a":0.942,"s":13.2,"t":4.4},{"a":0.947,"s":13.2,"t":4},{"a":0.952,"s":13.2,"t":3.6},{"a":0.957,"s":13.2,"t":3.2},{"a":0.962,"s":13.2,"t":2.9},{"a":0.967,"s":13.2,"t":2.5},{"a":0.972,"s":13.2,"t":2.1},{"a":0.977,"s":13.2,"t":1.7},{"a":0.982,"s":13.2,"t":1.3},{"a":0.987,"s":13.2,"t":1},
{"a":0.802,"s":13.7,"t":15.2},{"a":0.807,"s":13.7,"t":14.8},{"a":0.812,"s":13.7,"t":14.5},{"a":0.817,"s":13.7,"t":14.1},{"a":0.822,"s":13.7,"t":13.7},{"a":0.827,"s":13.7,"t":13.3},{"a":0.832,"s":13.7,"t":12.9},{"a":0.837,"s":13.7,"t":12.5},{"a":0.842,"s":13.7,"t":12.1},{"a":0.847,"s":13.7,"t":11.8},{"a":0.852,"s":13.7,"t":11.4},{"a":0.857,"s":13.7,"t":11},{"a":0.862,"s":13.7,"t":10.6},{"a":0.867,"s":13.7,"t":10.2},{"a":0.872,"s":13.7,"t":9.8},{"a":0.877,"s":13.7,"t":9.4},{"a":0.882,"s":13.7,"t":9.1},{"a":0.887,"s":13.7,"t":8.7},{"a":0.892,"s":13.7,"t":8.3},{"a":0.897,"s":13.7,"t":7.9},{"a":0.902,"s":13.7,"t":7.5},{"a":0.907,"s":13.7,"t":7.1},{"a":0.912,"s":13.7,"t":6.7},{"a":0.917,"s":13.7,"t":6.4},{"a":0.922,"s":13.7,"t":6},{"a":0.927,"s":13.7,"t":5.6},{"a":0.932,"s":13.7,"t":5.2},{"a":0.937,"s":13.7,"t":4.8},{"a":0.942,"s":13.7,"t":4.4},{"a":0.947,"s":13.7,"t":4},{"a":0.952,"s":13.7,"t":3.7},{"a":0.957,"s":13.7,"t":3.3},{"a":0.962,"s":13.7,"t":2.9},{"a":0.967,"s":13.7,"t":2.5},{"a":0.972,"s":13.7,"t":2.1},{"a":0.977,"s":13.7,"t":1.7},{"a":0.982,"s":13.7,"t":1.3},{"a":0.987,"s":13.7,"t":1},
{"a":0.802,"s":14.2,"t":15.4},{"a":0.807,"s":14.2,"t":15},{"a":0.812,"s":14.2,"t":14.6},{"a":0.817,"s":14.2,"t":14.2},{"a":0.822,"s":14.2,"t":13.8},{"a":0.827,"s":14.2,"t":13.4},{"a":0.832,"s":14.2,"t":13},{"a":0.837,"s":14.2,"t":12.7},{"a":0.842,"s":14.2,"t":12.3},{"a":0.847,"s":14.2,"t":11.9},{"a":0.852,"s":14.2,"t":11.5},{"a":0.857,"s":14.2,"t":11.1},{"a":0.862,"s":14.2,"t":10.7},{"a":0.867,"s":14.2,"t":10.3},{"a":0.872,"s":14.2,"t":9.9},{"a":0.877,"s":14.2,"t":9.5},{"a":0.882,"s":14.2,"t":9.2},{"a":0.887,"s":14.2,"t":8.8},{"a":0.892,"s":14.2,"t":8.4},{"a":0.897,"s":14.2,"t":8},{"a":0.902,"s":14.2,"t":7.6},{"a":0.907,"s":14.2,"t":7.2},{"a":0.912,"s":14.2,"t":6.8},{"a":0.917,"s":14.2,"t":6.4},{"a":0.922,"s":14.2,"t":6},{"a":0.927,"s":14.2,"t":5.6},{"a":0.932,"s":14.2,"t":5.3},{"a":0.937,"s":14.2,"t":4.9},{"a":0.942,"s":14.2,"t":4.5},{"a":0.947,"s":14.2,"t":4.1},{"a":0.952,"s":14.2,"t":3.7},{"a":0.957,"s":14.2,"t":3.3},{"a":0.962,"s":14.2,"t":2.9},{"a":0.967,"s":14.2,"t":2.5},{"a":0.972,"s":14.2,"t":2.1},{"a":0.977,"s":14.2,"t":1.8},{"a":0.982,"s":14.2,"t":1.4},{"a":0.987,"s":14.2,"t":1},
{"a":0.802,"s":14.7,"t":15.5},{"a":0.807,"s":14.7,"t":15.1},{"a":0.812,"s":14.7,"t":14.7},{"a":0.817,"s":14.7,"t":14.3},{"a":0.822,"s":14.7,"t":14},{"a":0.827,"s":14.7,"t":13.6},{"a":0.832,"s":14.7,"t":13.2},{"a":0.837,"s":14.7,"t":12.8},{"a":0.842,"s":14.7,"t":12.4},{"a":0.847,"s":14.7,"t":12},{"a":0.852,"s":14.7,"t":11.6},{"a":0.857,"s":14.7,"t":11.2},{"a":0.862,"s":14.7,"t":10.8},{"a":0.867,"s":14.7,"t":10.4},{"a":0.872,"s":14.7,"t":10},{"a":0.877,"s":14.7,"t":9.6},{"a":0.882,"s":14.7,"t":9.2},{"a":0.887,"s":14.7,"t":8.8},{"a":0.892,"s":14.7,"t":8.5},{"a":0.897,"s":14.7,"t":8.1},{"a":0.902,"s":14.7,"t":7.7},{"a":0.907,"s":14.7,"t":7.3},{"a":0.912,"s":14.7,"t":6.9},{"a":0.917,"s":14.7,"t":6.5},{"a":0.922,"s":14.7,"t":6.1},{"a":0.927,"s":14.7,"t":5.7},{"a":0.932,"s":14.7,"t":5.3},{"a":0.937,"s":14.7,"t":4.9},{"a":0.942,"s":14.7,"t":4.5},{"a":0.947,"s":14.7,"t":4.1},{"a":0.952,"s":14.7,"t":3.7},{"a":0.957,"s":14.7,"t":3.3},{"a":0.962,"s":14.7,"t":2.9},{"a":0.967,"s":14.7,"t":2.6},{"a":0.972,"s":14.7,"t":2.2},{"a":0.977,"s":14.7,"t":1.8},{"a":0.982,"s":14.7,"t":1.4},{"a":0.987,"s":14.7,"t":1},
{"a":0.802,"s":15.2,"t":15.7},{"a":0.807,"s":15.2,"t":15.3},{"a":0.812,"s":15.2,"t":14.9},{"a":0.817,"s":15.2,"t":14.5},{"a":0.822,"s":15.2,"t":14.1},{"a":0.827,"s":15.2,"t":13.7},{"a":0.832,"s":15.2,"t":13.3},{"a":0.837,"s":15.2,"t":12.9},{"a":0.842,"s":15.2,"t":12.5},{"a":0.847,"s":15.2,"t":12.1},{"a":0.852,"s":15.2,"t":11.7},{"a":0.857,"s":15.2,"t":11.3},{"a":0.862,"s":15.2,"t":10.9},{"a":0.867,"s":15.2,"t":10.5},{"a":0.872,"s":15.2,"t":10.1},{"a":0.877,"s":15.2,"t":9.7},{"a":0.882,"s":15.2,"t":9.3},{"a":0.887,"s":15.2,"t":8.9},{"a":0.892,"s":15.2,"t":8.5},{"a":0.897,"s":15.2,"t":8.1},{"a":0.902,"s":15.2,"t":7.7},{"a":0.907,"s":15.2,"t":7.3},{"a":0.912,"s":15.2,"t":6.9},{"a":0.917,"s":15.2,"t":6.5},{"a":0.922,"s":15.2,"t":6.1},{"a":0.927,"s":15.2,"t":5.7},{"a":0.932,"s":15.2,"t":5.4},{"a":0.937,"s":15.2,"t":5},{"a":0.942,"s":15.2,"t":4.6},{"a":0.947,"s":15.2,"t":4.2},{"a":0.952,"s":15.2,"t":3.8},{"a":0.957,"s":15.2,"t":3.4},{"a":0.962,"s":15.2,"t":3},{"a":0.967,"s":15.2,"t":2.6},{"a":0.972,"s":15.2,"t":2.2},{"a":0.977,"s":15.2,"t":1.8},{"a":0.982,"s":15.2,"t":1.4},{"a":0.987,"s":15.2,"t":1},
{"a":0.802,"s":15.7,"t":15.8},{"a":0.807,"s":15.7,"t":15.4},{"a":0.812,"s":15.7,"t":15},{"a":0.817,"s":15.7,"t":14.6},{"a":0.822,"s":15.7,"t":14.2},{"a":0.827,"s":15.7,"t":13.8},{"a":0.832,"s":15.7,"t":13.4},{"a":0.837,"s":15.7,"t":13},{"a":0.842,"s":15.7,"t":12.6},{"a":0.847,"s":15.7,"t":12.2},{"a":0.852,"s":15.7,"t":11.8},{"a":0.857,"s":15.7,"t":11.4},{"a":0.862,"s":15.7,"t":11},{"a":0.867,"s":15.7,"t":10.6},{"a":0.872,"s":15.7,"t":10.2},{"a":0.877,"s":15.7,"t":9.8},{"a":0.882,"s":15.7,"t":9.4},{"a":0.887,"s":15.7,"t":9},{"a":0.892,"s":15.7,"t":8.6},{"a":0.897,"s":15.7,"t":8.2},{"a":0.902,"s":15.7,"t":7.8},{"a":0.907,"s":15.7,"t":7.4},{"a":0.912,"s":15.7,"t":7},{"a":0.917,"s":15.7,"t":6.6},{"a":0.922,"s":15.7,"t":6.2},{"a":0.927,"s":15.7,"t":5.8},{"a":0.932,"s":15.7,"t":5.4},{"a":0.937,"s":15.7,"t":5},{"a":0.942,"s":15.7,"t":4.6},{"a":0.947,"s":15.7,"t":4.2},{"a":0.952,"s":15.7,"t":3.8},{"a":0.957,"s":15.7,"t":3.4},{"a":0.962,"s":15.7,"t":3},{"a":0.967,"s":15.7,"t":2.6},{"a":0.972,"s":15.7,"t":2.2},{"a":0.977,"s":15.7,"t":1.8},{"a":0.982,"s":15.7,"t":1.4},{"a":0.987,"s":15.7,"t":1},
{"a":0.802,"s":16.2,"t":15.9},{"a":0.807,"s":16.2,"t":15.5},{"a":0.812,"s":16.2,"t":15.1},{"a":0.817,"s":16.2,"t":14.7},{"a":0.822,"s":16.2,"t":14.3},{"a":0.827,"s":16.2,"t":13.9},{"a":0.832,"s":16.2,"t":13.5},{"a":0.837,"s":16.2,"t":13.1},{"a":0.842,"s":16.2,"t":12.7},{"a":0.847,"s":16.2,"t":12.3},{"a":0.852,"s":16.2,"t":11.9},{"a":0.857,"s":16.2,"t":11.5},{"a":0.862,"s":16.2,"t":11.1},{"a":0.867,"s":16.2,"t":10.7},{"a":0.872,"s":16.2,"t":10.3},{"a":0.877,"s":16.2,"t":9.9},{"a":0.882,"s":16.2,"t":9.5},{"a":0.887,"s":16.2,"t":9.1},{"a":0.892,"s":16.2,"t":8.7},{"a":0.897,"s":16.2,"t":8.3},{"a":0.902,"s":16.2,"t":7.9},{"a":0.907,"s":16.2,"t":7.5},{"a":0.912,"s":16.2,"t":7},{"a":0.917,"s":16.2,"t":6.6},{"a":0.922,"s":16.2,"t":6.2},{"a":0.927,"s":16.2,"t":5.8},{"a":0.932,"s":16.2,"t":5.4},{"a":0.937,"s":16.2,"t":5},{"a":0.942,"s":16.2,"t":4.6},{"a":0.947,"s":16.2,"t":4.2},{"a":0.952,"s":16.2,"t":3.8},{"a":0.957,"s":16.2,"t":3.4},{"a":0.962,"s":16.2,"t":3},{"a":0.967,"s":16.2,"t":2.6},{"a":0.972,"s":16.2,"t":2.2},{"a":0.977,"s":16.2,"t":1.8},{"a":0.982,"s":16.2,"t":1.4},{"a":0.987,"s":16.2,"t":1},
{"a":0.802,"s":16.7,"t":16},{"a":0.807,"s":16.7,"t":15.6},{"a":0.812,"s":16.7,"t":15.2},{"a":0.817,"s":16.7,"t":14.8},{"a":0.822,"s":16.7,"t":14.4},{"a":0.827,"s":16.7,"t":14},{"a":0.832,"s":16.7,"t":13.6},{"a":0.837,"s":16.7,"t":13.2},{"a":0.842,"s":16.7,"t":12.8},{"a":0.847,"s":16.7,"t":12.4},{"a":0.852,"s":16.7,"t":12},{"a":0.857,"s":16.7,"t":11.6},{"a":0.862,"s":16.7,"t":11.2},{"a":0.867,"s":16.7,"t":10.7},{"a":0.872,"s":16.7,"t":10.3},{"a":0.877,"s":16.7,"t":9.9},{"a":0.882,"s":16.7,"t":9.5},{"a":0.887,"s":16.7,"t":9.1},{"a":0.892,"s":16.7,"t":8.7},{"a":0.897,"s":16.7,"t":8.3},{"a":0.902,"s":16.7,"t":7.9},{"a":0.907,"s":16.7,"t":7.5},{"a":0.912,"s":16.7,"t":7.1},{"a":0.917,"s":16.7,"t":6.7},{"a":0.922,"s":16.7,"t":6.3},{"a":0.927,"s":16.7,"t":5.9},{"a":0.932,"s":16.7,"t":5.5},{"a":0.937,"s":16.7,"t":5.1},{"a":0.942,"s":16.7,"t":4.7},{"a":0.947,"s":16.7,"t":4.3},{"a":0.952,"s":16.7,"t":3.9},{"a":0.957,"s":16.7,"t":3.4},{"a":0.962,"s":16.7,"t":3},{"a":0.967,"s":16.7,"t":2.6},{"a":0.972,"s":16.7,"t":2.2},{"a":0.977,"s":16.7,"t":1.8},{"a":0.982,"s":16.7,"t":1.4},{"a":0.987,"s":16.7,"t":1},
{"a":0.802,"s":17.2,"t":16.1},{"a":0.807,"s":17.2,"t":15.7},{"a":0.812,"s":17.2,"t":15.3},{"a":0.817,"s":17.2,"t":14.9},{"a":0.822,"s":17.2,"t":14.5},{"a":0.827,"s":17.2,"t":14.1},{"a":0.832,"s":17.2,"t":13.7},{"a":0.837,"s":17.2,"t":13.3},{"a":0.842,"s":17.2,"t":12.9},{"a":0.847,"s":17.2,"t":12.5},{"a":0.852,"s":17.2,"t":12},{"a":0.857,"s":17.2,"t":11.6},{"a":0.862,"s":17.2,"t":11.2},{"a":0.867,"s":17.2,"t":10.8},{"a":0.872,"s":17.2,"t":10.4},{"a":0.877,"s":17.2,"t":10},{"a":0.882,"s":17.2,"t":9.6},{"a":0.887,"s":17.2,"t":9.2},{"a":0.892,"s":17.2,"t":8.8},{"a":0.897,"s":17.2,"t":8.4},{"a":0.902,"s":17.2,"t":8},{"a":0.907,"s":17.2,"t":7.6},{"a":0.912,"s":17.2,"t":7.1},{"a":0.917,"s":17.2,"t":6.7},{"a":0.922,"s":17.2,"t":6.3},{"a":0.927,"s":17.2,"t":5.9},{"a":0.932,"s":17.2,"t":5.5},{"a":0.937,"s":17.2,"t":5.1},{"a":0.942,"s":17.2,"t":4.7},{"a":0.947,"s":17.2,"t":4.3},{"a":0.952,"s":17.2,"t":3.9},{"a":0.957,"s":17.2,"t":3.5},{"a":0.962,"s":17.2,"t":3.1},{"a":0.967,"s":17.2,"t":2.7},{"a":0.972,"s":17.2,"t":2.2},{"a":0.977,"s":17.2,"t":1.8},{"a":0.982,"s":17.2,"t":1.4},{"a":0.987,"s":17.2,"t":1},
{"a":0.802,"s":17.7,"t":16.2},{"a":0.807,"s":17.7,"t":15.8},{"a":0.812,"s":17.7,"t":15.4},{"a":0.817,"s":17.7,"t":15},{"a":0.822,"s":17.7,"t":14.6},{"a":0.827,"s":17.7,"t":14.2},{"a":0.832,"s":17.7,"t":13.8},{"a":0.837,"s":17.7,"t":13.4},{"a":0.842,"s":17.7,"t":12.9},{"a":0.847,"s":17.7,"t":12.5},{"a":0.852,"s":17.7,"t":12.1},{"a":0.857,"s":17.7,"t":11.7},{"a":0.862,"s":17.7,"t":11.3},{"a":0.867,"s":17.7,"t":10.9},{"a":0.872,"s":17.7,"t":10.5},{"a":0.877,"s":17.7,"t":10.1},{"a":0.882,"s":17.7,"t":9.7},{"a":0.887,"s":17.7,"t":9.2},{"a":0.892,"s":17.7,"t":8.8},{"a":0.897,"s":17.7,"t":8.4},{"a":0.902,"s":17.7,"t":8},{"a":0.907,"s":17.7,"t":7.6},{"a":0.912,"s":17.7,"t":7.2},{"a":0.917,"s":17.7,"t":6.8},{"a":0.922,"s":17.7,"t":6.4},{"a":0.927,"s":17.7,"t":6},{"a":0.932,"s":17.7,"t":5.5},{"a":0.937,"s":17.7,"t":5.1},{"a":0.942,"s":17.7,"t":4.7},{"a":0.947,"s":17.7,"t":4.3},{"a":0.952,"s":17.7,"t":3.9},{"a":0.957,"s":17.7,"t":3.5},{"a":0.962,"s":17.7,"t":3.1},{"a":0.967,"s":17.7,"t":2.7},{"a":0.972,"s":17.7,"t":2.3},{"a":0.977,"s":17.7,"t":1.8},{"a":0.982,"s":17.7,"t":1.4},{"a":0.987,"s":17.7,"t":1},
{"a":0.802,"s":18.2,"t":16.3},{"a":0.807,"s":18.2,"t":15.9},{"a":0.812,"s":18.2,"t":15.5},{"a":0.817,"s":18.2,"t":15.1},{"a":0.822,"s":18.2,"t":14.7},{"a":0.827,"s":18.2,"t":14.3},{"a":0.832,"s":18.2,"t":13.8},{"a":0.837,"s":18.2,"t":13.4},{"a":0.842,"s":18.2,"t":13},{"a":0.847,"s":18.2,"t":12.6},{"a":0.852,"s":18.2,"t":12.2},{"a":0.857,"s":18.2,"t":11.8},{"a":0.862,"s":18.2,"t":11.4},{"a":0.867,"s":18.2,"t":11},{"a":0.872,"s":18.2,"t":10.5},{"a":0.877,"s":18.2,"t":10.1},{"a":0.882,"s":18.2,"t":9.7},{"a":0.887,"s":18.2,"t":9.3},{"a":0.892,"s":18.2,"t":8.9},{"a":0.897,"s":18.2,"t":8.5},{"a":0.902,"s":18.2,"t":8.1},{"a":0.907,"s":18.2,"t":7.6},{"a":0.912,"s":18.2,"t":7.2},{"a":0.917,"s":18.2,"t":6.8},{"a":0.922,"s":18.2,"t":6.4},{"a":0.927,"s":18.2,"t":6},{"a":0.932,"s":18.2,"t":5.6},{"a":0.937,"s":18.2,"t":5.2},{"a":0.942,"s":18.2,"t":4.8},{"a":0.947,"s":18.2,"t":4.3},{"a":0.952,"s":18.2,"t":3.9},{"a":0.957,"s":18.2,"t":3.5},{"a":0.962,"s":18.2,"t":3.1},{"a":0.967,"s":18.2,"t":2.7},{"a":0.972,"s":18.2,"t":2.3},{"a":0.977,"s":18.2,"t":1.9},{"a":0.982,"s":18.2,"t":1.4},{"a":0.987,"s":18.2,"t":1},
{"a":0.802,"s":18.7,"t":16.4},{"a":0.807,"s":18.7,"t":16},{"a":0.812,"s":18.7,"t":15.6},{"a":0.817,"s":18.7,"t":15.2},{"a":0.822,"s":18.7,"t":14.8},{"a":0.827,"s":18.7,"t":14.3},{"a":0.832,"s":18.7,"t":13.9},{"a":0.837,"s":18.7,"t":13.5},{"a":0.842,"s":18.7,"t":13.1},{"a":0.847,"s":18.7,"t":12.7},{"a":0.852,"s":18.7,"t":12.3},{"a":0.857,"s":18.7,"t":11.8},{"a":0.862,"s":18.7,"t":11.4},{"a":0.867,"s":18.7,"t":11},{"a":0.872,"s":18.7,"t":10.6},{"a":0.877,"s":18.7,"t":10.2},{"a":0.882,"s":18.7,"t":9.8},{"a":0.887,"s":18.7,"t":9.3},{"a":0.892,"s":18.7,"t":8.9},{"a":0.897,"s":18.7,"t":8.5},{"a":0.902,"s":18.7,"t":8.1},{"a":0.907,"s":18.7,"t":7.7},{"a":0.912,"s":18.7,"t":7.3},{"a":0.917,"s":18.7,"t":6.9},{"a":0.922,"s":18.7,"t":6.4},{"a":0.927,"s":18.7,"t":6},{"a":0.932,"s":18.7,"t":5.6},{"a":0.937,"s":18.7,"t":5.2},{"a":0.942,"s":18.7,"t":4.8},{"a":0.947,"s":18.7,"t":4.4},{"a":0.952,"s":18.7,"t":3.9},{"a":0.957,"s":18.7,"t":3.5},{"a":0.962,"s":18.7,"t":3.1},{"a":0.967,"s":18.7,"t":2.7},{"a":0.972,"s":18.7,"t":2.3},{"a":0.977,"s":18.7,"t":1.9},{"a":0.982,"s":18.7,"t":1.5},{"a":0.987,"s":18.7,"t":1},
{"a":0.802,"s":19.2,"t":16.5},{"a":0.807,"s":19.2,"t":16.1},{"a":0.812,"s":19.2,"t":15.7},{"a":0.817,"s":19.2,"t":15.2},{"a":0.822,"s":19.2,"t":14.8},{"a":0.827,"s":19.2,"t":14.4},{"a":0.832,"s":19.2,"t":14},{"a":0.837,"s":19.2,"t":13.6},{"a":0.842,"s":19.2,"t":13.2},{"a":0.847,"s":19.2,"t":12.7},{"a":0.852,"s":19.2,"t":12.3},{"a":0.857,"s":19.2,"t":11.9},{"a":0.862,"s":19.2,"t":11.5},{"a":0.867,"s":19.2,"t":11.1},{"a":0.872,"s":19.2,"t":10.7},{"a":0.877,"s":19.2,"t":10.2},{"a":0.882,"s":19.2,"t":9.8},{"a":0.887,"s":19.2,"t":9.4},{"a":0.892,"s":19.2,"t":9},{"a":0.897,"s":19.2,"t":8.6},{"a":0.902,"s":19.2,"t":8.1},{"a":0.907,"s":19.2,"t":7.7},{"a":0.912,"s":19.2,"t":7.3},{"a":0.917,"s":19.2,"t":6.9},{"a":0.922,"s":19.2,"t":6.5},{"a":0.927,"s":19.2,"t":6.1},{"a":0.932,"s":19.2,"t":5.6},{"a":0.937,"s":19.2,"t":5.2},{"a":0.942,"s":19.2,"t":4.8},{"a":0.947,"s":19.2,"t":4.4},{"a":0.952,"s":19.2,"t":4},{"a":0.957,"s":19.2,"t":3.6},{"a":0.962,"s":19.2,"t":3.1},{"a":0.967,"s":19.2,"t":2.7},{"a":0.972,"s":19.2,"t":2.3},{"a":0.977,"s":19.2,"t":1.9},{"a":0.982,"s":19.2,"t":1.5},{"a":0.987,"s":19.2,"t":1},
{"a":0.802,"s":19.7,"t":16.6},{"a":0.807,"s":19.7,"t":16.2},{"a":0.812,"s":19.7,"t":15.7},{"a":0.817,"s":19.7,"t":15.3},{"a":0.822,"s":19.7,"t":14.9},{"a":0.827,"s":19.7,"t":14.5},{"a":0.832,"s":19.7,"t":14.1},{"a":0.837,"s":19.7,"t":13.6},{"a":0.842,"s":19.7,"t":13.2},{"a":0.847,"s":19.7,"t":12.8},{"a":0.852,"s":19.7,"t":12.4},{"a":0.857,"s":19.7,"t":12},{"a":0.862,"s":19.7,"t":11.5},{"a":0.867,"s":19.7,"t":11.1},{"a":0.872,"s":19.7,"t":10.7},{"a":0.877,"s":19.7,"t":10.3},{"a":0.882,"s":19.7,"t":9.9},{"a":0.887,"s":19.7,"t":9.4},{"a":0.892,"s":19.7,"t":9},{"a":0.897,"s":19.7,"t":8.6},{"a":0.902,"s":19.7,"t":8.2},{"a":0.907,"s":19.7,"t":7.8},{"a":0.912,"s":19.7,"t":7.3},{"a":0.917,"s":19.7,"t":6.9},{"a":0.922,"s":19.7,"t":6.5},{"a":0.927,"s":19.7,"t":6.1},{"a":0.932,"s":19.7,"t":5.7},{"a":0.937,"s":19.7,"t":5.2},{"a":0.942,"s":19.7,"t":4.8},{"a":0.947,"s":19.7,"t":4.4},{"a":0.952,"s":19.7,"t":4},{"a":0.957,"s":19.7,"t":3.6},{"a":0.962,"s":19.7,"t":3.1},{"a":0.967,"s":19.7,"t":2.7},{"a":0.972,"s":19.7,"t":2.3},{"a":0.977,"s":19.7,"t":1.9},{"a":0.982,"s":19.7,"t":1.5},{"a":0.987,"s":19.7,"t":1}
],
"cont":[
{"g":"p1","a":0.8,"s":2.983},{"g":"p1","a":0.82,"s":3.121},{"g":"p1","a":0.84,"s":3.296},{"g":"p1","a":0.86,"s":3.529},{"g":"p1","a":0.88,"s":3.86},{"g":"p1","a":0.89,"s":4.084},{"g":"p1","a":0.9,"s":4.37},{"g":"p1","a":0.91,"s":4.753},{"g":"p1","a":0.92,"s":5.295},{"g":"p1","a":0.925,"s":5.663},{"g":"p1","a":0.93,"s":6.134},{"g":"p1","a":0.935,"s":6.756},{"g":"p1","a":0.94,"s":7.628},{"g":"p1","a":0.9425,"s":8.209},{"g":"p1","a":0.945,"s":8.937},{"g":"p1","a":0.948,"s":10.106},{"g":"p1","a":0.95,"s":11.157},{"g":"p1","a":0.952,"s":12.55},{"g":"p1","a":0.954,"s":14.5},{"g":"p1","a":0.955,"s":15.79},{"g":"p1","a":0.95597,"s":17.35},
{"g":"p2","a":0.95684,"s":19.1},{"g":"p2","a":0.95718,"s":19.9},{"g":"p2","a":0.9573,"s":20.2},
{"g":"q1","a":0.8,"s":2.396},{"g":"q1","a":0.82,"s":2.471},{"g":"q1","a":0.84,"s":2.564},{"g":"q1","a":0.86,"s":2.681},{"g":"q1","a":0.88,"s":2.836},{"g":"q1","a":0.9,"s":3.052},{"g":"q1","a":0.91,"s":3.199},{"g":"q1","a":0.92,"s":3.386},{"g":"q1","a":0.93,"s":3.637},{"g":"q1","a":0.94,"s":3.995},{"g":"q1","a":0.945,"s":4.24},{"g":"q1","a":0.95,"s":4.556},{"g":"q1","a":0.955,"s":4.985},{"g":"q1","a":0.96,"s":5.599},{"g":"q1","a":0.9625,"s":6.023},{"g":"q1","a":0.965,"s":6.574},{"g":"q1","a":0.967,"s":7.148},{"g":"q1","a":0.969,"s":7.905},{"g":"q1","a":0.971,"s":8.957},{"g":"q1","a":0.972,"s":9.652},{"g":"q1","a":0.973,"s":10.535},{"g":"q1","a":0.974,"s":11.62},{"g":"q1","a":0.975,"s":13.09},{"g":"q1","a":0.976,"s":15.14},{"g":"q1","a":0.9765,"s":16.5},{"g":"q1","a":0.97672,"s":17.2},
{"g":"q2","a":0.9772,"s":19.0},{"g":"q2","a":0.9774,"s":19.9},{"g":"q2","a":0.9775,"s":20.2}
],
"lab":[{"a":0.9564,"s":18.2,"l":"3.600"},{"a":0.977,"s":18.1,"l":"1.900"}]
},
"layer":[
{"data":{"name":"lo"},"mark":{"type":"rect","clip":true,"binSpacing":0},
"encoding":{
"x":{"field":"a","type":"quantitative","bin":{"extent":[0.8,0.99],"step":0.005,"nice":false},"scale":{"domain":[0.8,0.988]},"axis":{"values":[0.8,0.825,0.85,0.875,0.9,0.925,0.95,0.975],"format":".3f","title":"A₁"}},
"y":{"field":"s","type":"quantitative","bin":{"extent":[1,6],"step":0.25,"nice":false},"scale":{"domain":[1.05,19.9]},"axis":{"values":[2.5,5,7.5,10,12.5,15,17.5],"format":".1f","title":"σ₂/σ₁"}},
"color":{"field":"t","type":"quantitative","scale":{"domain":[0,1.685,3.37,5.055,6.74,8.425,10.11,11.795,13.48,15.165,16.85],"range":["#67001f","#b2182b","#d6604d","#f4a582","#fddbc7","#f7f7f7","#d1e5f0","#92c5de","#4393c3","#2166ac","#053061"],"interpolate":"rgb"},
"legend":{"type":"gradient","values":[2,4,6,8,10,12,14,16],"direction":"vertical","gradientLength":487,"gradientThickness":25,"gradientStrokeWidth":0,"labelFontSize":14,"labelColor":"#555555","labelOffset":6,"offset":38,"padding":0,"title":null}}
}},
{"data":{"name":"lo"},"mark":{"type":"rect","clip":true,"binSpacing":0},
"encoding":{
"x":{"field":"a","type":"quantitative","bin":{"extent":[0.8,0.99],"step":0.005,"nice":false},"scale":{"domain":[0.8,0.988]},"axis":{"values":[0.8,0.825,0.85,0.875,0.9,0.925,0.95,0.975],"format":".3f","title":"A₁"}},
"y":{"field":"s","type":"quantitative","bin":{"extent":[1,6],"step":0.25,"nice":false},"scale":{"domain":[1.05,19.9]},"axis":{"values":[2.5,5,7.5,10,12.5,15,17.5],"format":".1f","title":"σ₂/σ₁"}},
"color":{"field":"t","type":"quantitative","scale":{"domain":[0,1.685,3.37,5.055,6.74,8.425,10.11,11.795,13.48,15.165,16.85],"range":["#67001f","#b2182b","#d6604d","#f4a582","#fddbc7","#f7f7f7","#d1e5f0","#92c5de","#4393c3","#2166ac","#053061"],"interpolate":"rgb"},
"legend":{"type":"gradient","values":[2,4,6,8,10,12,14,16],"direction":"vertical","gradientLength":487,"gradientThickness":25,"gradientStrokeWidth":0,"labelFontSize":14,"labelColor":"#555555","labelOffset":6,"offset":38,"padding":0,"title":null}}
}},
{"data":{"name":"up"},"mark":{"type":"rect","clip":true,"binSpacing":0},
"encoding":{
"x":{"field":"a","type":"quantitative","bin":{"extent":[0.8,0.99],"step":0.005,"nice":false},"scale":{"domain":[0.8,0.988]},"axis":{"values":[0.8,0.825,0.85,0.875,0.9,0.925,0.95,0.975],"format":".3f","title":"A₁"}},
"y":{"field":"s","type":"quantitative","bin":{"extent":[6,20],"step":0.5,"nice":false},"scale":{"domain":[1.05,19.9]},"axis":{"values":[2.5,5,7.5,10,12.5,15,17.5],"format":".1f","title":"σ₂/σ₁"}},
"color":{"field":"t","type":"quantitative","scale":{"domain":[0,1.685,3.37,5.055,6.74,8.425,10.11,11.795,13.48,15.165,16.85],"range":["#67001f","#b2182b","#d6604d","#f4a582","#fddbc7","#f7f7f7","#d1e5f0","#92c5de","#4393c3","#2166ac","#053061"],"interpolate":"rgb"},
"legend":{"type":"gradient","values":[2,4,6,8,10,12,14,16],"direction":"vertical","gradientLength":487,"gradientThickness":25,"gradientStrokeWidth":0,"labelFontSize":14,"labelColor":"#555555","labelOffset":6,"offset":38,"padding":0,"title":null}}
}},
{"data":{"name":"up"},"mark":{"type":"rect","clip":true,"binSpacing":0},
"encoding":{
"x":{"field":"a","type":"quantitative","bin":{"extent":[0.8,0.99],"step":0.005,"nice":false},"scale":{"domain":[0.8,0.988]},"axis":{"values":[0.8,0.825,0.85,0.875,0.9,0.925,0.95,0.975],"format":".3f","title":"A₁"}},
"y":{"field":"s","type":"quantitative","bin":{"extent":[6,20],"step":0.5,"nice":false},"scale":{"domain":[1.05,19.9]},"axis":{"values":[2.5,5,7.5,10,12.5,15,17.5],"format":".1f","title":"σ₂/σ₁"}},
"color":{"field":"t","type":"quantitative","scale":{"domain":[0,1.685,3.37,5.055,6.74,8.425,10.11,11.795,13.48,15.165,16.85],"range":["#67001f","#b2182b","#d6604d","#f4a582","#fddbc7","#f7f7f7","#d1e5f0","#92c5de","#4393c3","#2166ac","#053061"],"interpolate":"rgb"},
"legend":{"type":"gradient","values":[2,4,6,8,10,12,14,16],"direction":"vertical","gradientLength":487,"gradientThickness":25,"gradientStrokeWidth":0,"labelFontSize":14,"labelColor":"#555555","labelOffset":6,"offset":38,"padding":0,"title":null}}
}},
{"data":{"name":"cont"},"mark":{"type":"line","color":"black","strokeWidth":1.5,"clip":true},
"encoding":{
"x":{"field":"a","type":"quantitative","scale":{"domain":[0.8,0.988]},"axis":{"values":[0.8,0.825,0.85,0.875,0.9,0.925,0.95,0.975],"format":".3f","title":"A₁"}},
"y":{"field":"s","type":"quantitative","scale":{"domain":[1.05,19.9]},"axis":{"values":[2.5,5,7.5,10,12.5,15,17.5],"format":".1f","title":"σ₂/σ₁"}},
"detail":{"field":"g","type":"nominal"}
}},
{"data":{"name":"lab"},"mark":{"type":"text","angle":270,"fontSize":11,"font":"DejaVu Sans","color":"black","align":"center","baseline":"middle"},
"encoding":{
"x":{"field":"a","type":"quantitative","scale":{"domain":[0.8,0.988]},"axis":{"values":[0.8,0.825,0.85,0.875,0.9,0.925,0.95,0.975],"format":".3f","title":"A₁"}},
"y":{"field":"s","type":"quantitative","scale":{"domain":[1.05,19.9]},"axis":{"values":[2.5,5,7.5,10,12.5,15,17.5],"format":".1f","title":"σ₂/σ₁"}},
"text":{"field":"l","type":"nominal"}
}}
]
}
